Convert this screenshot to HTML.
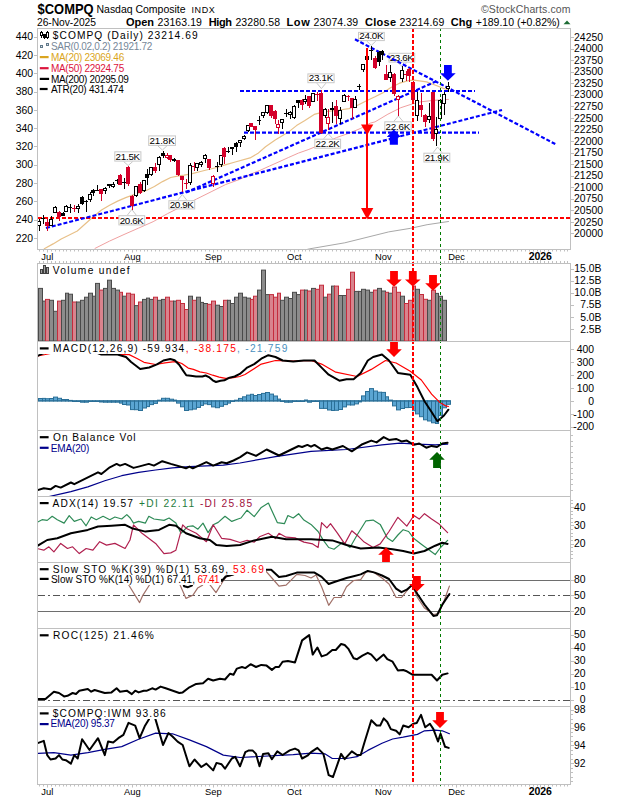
<!DOCTYPE html>
<html><head><meta charset="utf-8"><title>$COMPQ Nasdaq Composite INDX</title>
<style>
html,body{margin:0;padding:0;background:#fff;width:620px;height:800px;overflow:hidden}
svg{display:block}
text{font-family:"Liberation Sans", Arial, sans-serif}
</style></head><body>
<svg width="620" height="800" viewBox="0 0 620 800">
<rect width="620" height="800" fill="#fff"/>
<defs>
<clipPath id="c_main"><rect x="38" y="29" width="532" height="220"/></clipPath>
<clipPath id="c_vol"><rect x="38" y="264" width="532" height="77"/></clipPath>
<clipPath id="c_macd"><rect x="38" y="342" width="532" height="88"/></clipPath>
<clipPath id="c_obv"><rect x="38" y="431" width="532" height="65"/></clipPath>
<clipPath id="c_adx"><rect x="38" y="497" width="532" height="65"/></clipPath>
<clipPath id="c_sto"><rect x="38" y="563" width="532" height="65"/></clipPath>
<clipPath id="c_roc"><rect x="38" y="629" width="532" height="77"/></clipPath>
<clipPath id="c_iwm"><rect x="38" y="707" width="532" height="77"/></clipPath>
</defs>
<text x="37.6" y="13.9" font-size="14.2" fill="#000" font-weight="bold" textLength="56" lengthAdjust="spacingAndGlyphs">$COMPQ</text>
<text x="96.5" y="12.9" font-size="10.5" fill="#000" textLength="89" lengthAdjust="spacing">Nasdaq Composite</text>
<text x="191.5" y="12.8" font-size="9" fill="#000" textLength="23.3" lengthAdjust="spacing">INDX</text>
<text x="37" y="25.6" font-size="10.3" fill="#000" textLength="59" lengthAdjust="spacing">26-Nov-2025</text>
<text x="126" y="25.5" font-size="11" fill="#000" font-weight="bold" textLength="28" lengthAdjust="spacing">Open</text>
<text x="157.6" y="25.5" font-size="10.5" fill="#000" textLength="44.3" lengthAdjust="spacing">23163.19</text>
<text x="208.8" y="25.5" font-size="11" fill="#000" font-weight="bold" textLength="23.2" lengthAdjust="spacing">High</text>
<text x="235.4" y="25.5" font-size="10.5" fill="#000" textLength="44.7" lengthAdjust="spacing">23280.58</text>
<text x="286.5" y="25.5" font-size="11" fill="#000" font-weight="bold" textLength="23.2" lengthAdjust="spacing">Low</text>
<text x="313.5" y="25.5" font-size="10.5" fill="#000" textLength="44.7" lengthAdjust="spacing">23074.39</text>
<text x="365" y="25.5" font-size="11" fill="#000" font-weight="bold" textLength="31" lengthAdjust="spacing">Close</text>
<text x="399.5" y="25.5" font-size="10.5" fill="#000" textLength="44.8" lengthAdjust="spacing">23214.69</text>
<text x="450.8" y="25.5" font-size="11" fill="#000" font-weight="bold" textLength="21.5" lengthAdjust="spacing">Chg</text>
<text x="475.8" y="25.5" font-size="10.5" fill="#000" textLength="84" lengthAdjust="spacing">+189.10 (+0.82%)</text>
<polygon points="563.5,24.2 570.5,24.2 567,20.6" fill="#1d6b33"/>
<text x="481" y="13.2" font-size="10.5" fill="#555" textLength="89.5" lengthAdjust="spacing">©StockCharts.com</text>
<path d="M39.5,249.5v2M43.5,249.5v2M47.5,249.5v3M51.5,249.5v2M55.5,249.5v2M59.5,249.5v2M63.5,249.5v2M66.5,249.5v2M70.5,249.5v2M74.5,249.5v2M78.5,249.5v2M82.5,249.5v2M86.5,249.5v2M90.5,249.5v2M93.5,249.5v2M97.5,249.5v2M101.5,249.5v2M105.5,249.5v2M109.5,249.5v2M113.5,249.5v2M117.5,249.5v2M120.5,249.5v2M124.5,249.5v2M128.5,249.5v2M132.5,249.5v3M136.5,249.5v2M140.5,249.5v2M144.5,249.5v2M147.5,249.5v2M151.5,249.5v2M155.5,249.5v2M159.5,249.5v2M163.5,249.5v2M167.5,249.5v2M170.5,249.5v2M174.5,249.5v2M178.5,249.5v2M182.5,249.5v2M186.5,249.5v2M190.5,249.5v2M194.5,249.5v2M197.5,249.5v2M201.5,249.5v2M205.5,249.5v2M209.5,249.5v2M213.5,249.5v3M217.5,249.5v2M221.5,249.5v2M224.5,249.5v2M228.5,249.5v2M232.5,249.5v2M236.5,249.5v2M240.5,249.5v2M244.5,249.5v2M248.5,249.5v2M251.5,249.5v2M255.5,249.5v2M259.5,249.5v2M263.5,249.5v2M267.5,249.5v2M271.5,249.5v2M275.5,249.5v2M278.5,249.5v2M282.5,249.5v2M286.5,249.5v2M290.5,249.5v2M294.5,249.5v3M298.5,249.5v2M302.5,249.5v2M305.5,249.5v2M309.5,249.5v2M313.5,249.5v2M317.5,249.5v2M321.5,249.5v2M325.5,249.5v2M328.5,249.5v2M332.5,249.5v2M336.5,249.5v2M340.5,249.5v2M344.5,249.5v2M348.5,249.5v2M352.5,249.5v2M355.5,249.5v2M359.5,249.5v2M363.5,249.5v2M367.5,249.5v2M371.5,249.5v2M375.5,249.5v2M379.5,249.5v2M382.5,249.5v3M386.5,249.5v2M390.5,249.5v2M394.5,249.5v2M398.5,249.5v2M402.5,249.5v2M406.5,249.5v2M409.5,249.5v2M413.5,249.5v2M417.5,249.5v2M421.5,249.5v2M425.5,249.5v2M429.5,249.5v2M433.5,249.5v2M436.5,249.5v2M440.5,249.5v2M444.5,249.5v2M448.5,249.5v2M452.5,249.5v2M456.5,249.5v3M460.5,249.5v2M463.5,249.5v2M467.5,249.5v2M471.5,249.5v2M475.5,249.5v2M479.5,249.5v2M483.5,249.5v2M487.5,249.5v2M490.5,249.5v2M494.5,249.5v2M498.5,249.5v2M502.5,249.5v2M506.5,249.5v2M510.5,249.5v2M513.5,249.5v2M517.5,249.5v2M521.5,249.5v2M525.5,249.5v2M529.5,249.5v2M533.5,249.5v2M537.5,249.5v2M540.5,249.5v3M544.5,249.5v2M548.5,249.5v2M552.5,249.5v2M556.5,249.5v2M560.5,249.5v2M564.5,249.5v2M567.5,249.5v2" stroke="#c0c0c0" stroke-width="1" fill="none"/>
<path d="M39.5,263v-2M43.5,263v-2M47.5,263v-3M51.5,263v-2M55.5,263v-2M59.5,263v-2M63.5,263v-2M66.5,263v-2M70.5,263v-2M74.5,263v-2M78.5,263v-2M82.5,263v-2M86.5,263v-2M90.5,263v-2M93.5,263v-2M97.5,263v-2M101.5,263v-2M105.5,263v-2M109.5,263v-2M113.5,263v-2M117.5,263v-2M120.5,263v-2M124.5,263v-2M128.5,263v-2M132.5,263v-3M136.5,263v-2M140.5,263v-2M144.5,263v-2M147.5,263v-2M151.5,263v-2M155.5,263v-2M159.5,263v-2M163.5,263v-2M167.5,263v-2M170.5,263v-2M174.5,263v-2M178.5,263v-2M182.5,263v-2M186.5,263v-2M190.5,263v-2M194.5,263v-2M197.5,263v-2M201.5,263v-2M205.5,263v-2M209.5,263v-2M213.5,263v-3M217.5,263v-2M221.5,263v-2M224.5,263v-2M228.5,263v-2M232.5,263v-2M236.5,263v-2M240.5,263v-2M244.5,263v-2M248.5,263v-2M251.5,263v-2M255.5,263v-2M259.5,263v-2M263.5,263v-2M267.5,263v-2M271.5,263v-2M275.5,263v-2M278.5,263v-2M282.5,263v-2M286.5,263v-2M290.5,263v-2M294.5,263v-3M298.5,263v-2M302.5,263v-2M305.5,263v-2M309.5,263v-2M313.5,263v-2M317.5,263v-2M321.5,263v-2M325.5,263v-2M328.5,263v-2M332.5,263v-2M336.5,263v-2M340.5,263v-2M344.5,263v-2M348.5,263v-2M352.5,263v-2M355.5,263v-2M359.5,263v-2M363.5,263v-2M367.5,263v-2M371.5,263v-2M375.5,263v-2M379.5,263v-2M382.5,263v-3M386.5,263v-2M390.5,263v-2M394.5,263v-2M398.5,263v-2M402.5,263v-2M406.5,263v-2M409.5,263v-2M413.5,263v-2M417.5,263v-2M421.5,263v-2M425.5,263v-2M429.5,263v-2M433.5,263v-2M436.5,263v-2M440.5,263v-2M444.5,263v-2M448.5,263v-2M452.5,263v-2M456.5,263v-3M460.5,263v-2M463.5,263v-2M467.5,263v-2M471.5,263v-2M475.5,263v-2M479.5,263v-2M483.5,263v-2M487.5,263v-2M490.5,263v-2M494.5,263v-2M498.5,263v-2M502.5,263v-2M506.5,263v-2M510.5,263v-2M513.5,263v-2M517.5,263v-2M521.5,263v-2M525.5,263v-2M529.5,263v-2M533.5,263v-2M537.5,263v-2M540.5,263v-3M544.5,263v-2M548.5,263v-2M552.5,263v-2M556.5,263v-2M560.5,263v-2M564.5,263v-2M567.5,263v-2" stroke="#c0c0c0" stroke-width="1" fill="none"/>
<path d="M39.5,784.5v2M43.5,784.5v2M47.5,784.5v3M51.5,784.5v2M55.5,784.5v2M59.5,784.5v2M63.5,784.5v2M66.5,784.5v2M70.5,784.5v2M74.5,784.5v2M78.5,784.5v2M82.5,784.5v2M86.5,784.5v2M90.5,784.5v2M93.5,784.5v2M97.5,784.5v2M101.5,784.5v2M105.5,784.5v2M109.5,784.5v2M113.5,784.5v2M117.5,784.5v2M120.5,784.5v2M124.5,784.5v2M128.5,784.5v2M132.5,784.5v3M136.5,784.5v2M140.5,784.5v2M144.5,784.5v2M147.5,784.5v2M151.5,784.5v2M155.5,784.5v2M159.5,784.5v2M163.5,784.5v2M167.5,784.5v2M170.5,784.5v2M174.5,784.5v2M178.5,784.5v2M182.5,784.5v2M186.5,784.5v2M190.5,784.5v2M194.5,784.5v2M197.5,784.5v2M201.5,784.5v2M205.5,784.5v2M209.5,784.5v2M213.5,784.5v3M217.5,784.5v2M221.5,784.5v2M224.5,784.5v2M228.5,784.5v2M232.5,784.5v2M236.5,784.5v2M240.5,784.5v2M244.5,784.5v2M248.5,784.5v2M251.5,784.5v2M255.5,784.5v2M259.5,784.5v2M263.5,784.5v2M267.5,784.5v2M271.5,784.5v2M275.5,784.5v2M278.5,784.5v2M282.5,784.5v2M286.5,784.5v2M290.5,784.5v2M294.5,784.5v3M298.5,784.5v2M302.5,784.5v2M305.5,784.5v2M309.5,784.5v2M313.5,784.5v2M317.5,784.5v2M321.5,784.5v2M325.5,784.5v2M328.5,784.5v2M332.5,784.5v2M336.5,784.5v2M340.5,784.5v2M344.5,784.5v2M348.5,784.5v2M352.5,784.5v2M355.5,784.5v2M359.5,784.5v2M363.5,784.5v2M367.5,784.5v2M371.5,784.5v2M375.5,784.5v2M379.5,784.5v2M382.5,784.5v3M386.5,784.5v2M390.5,784.5v2M394.5,784.5v2M398.5,784.5v2M402.5,784.5v2M406.5,784.5v2M409.5,784.5v2M413.5,784.5v2M417.5,784.5v2M421.5,784.5v2M425.5,784.5v2M429.5,784.5v2M433.5,784.5v2M436.5,784.5v2M440.5,784.5v2M444.5,784.5v2M448.5,784.5v2M452.5,784.5v2M456.5,784.5v3M460.5,784.5v2M463.5,784.5v2M467.5,784.5v2M471.5,784.5v2M475.5,784.5v2M479.5,784.5v2M483.5,784.5v2M487.5,784.5v2M490.5,784.5v2M494.5,784.5v2M498.5,784.5v2M502.5,784.5v2M506.5,784.5v2M510.5,784.5v2M513.5,784.5v2M517.5,784.5v2M521.5,784.5v2M525.5,784.5v2M529.5,784.5v2M533.5,784.5v2M537.5,784.5v2M540.5,784.5v3M544.5,784.5v2M548.5,784.5v2M552.5,784.5v2M556.5,784.5v2M560.5,784.5v2M564.5,784.5v2M567.5,784.5v2" stroke="#c0c0c0" stroke-width="1" fill="none"/>
<text x="47.3" y="259.8" font-size="9.4" fill="#000" font-family='"DejaVu Sans", sans-serif' text-anchor="middle">Jul</text>
<text x="47.3" y="794.8" font-size="9.4" fill="#000" font-family='"DejaVu Sans", sans-serif' text-anchor="middle">Jul</text>
<text x="132.3" y="259.8" font-size="9.4" fill="#000" font-family='"DejaVu Sans", sans-serif' text-anchor="middle">Aug</text>
<text x="132.3" y="794.8" font-size="9.4" fill="#000" font-family='"DejaVu Sans", sans-serif' text-anchor="middle">Aug</text>
<text x="213.4" y="259.8" font-size="9.4" fill="#000" font-family='"DejaVu Sans", sans-serif' text-anchor="middle">Sep</text>
<text x="213.4" y="794.8" font-size="9.4" fill="#000" font-family='"DejaVu Sans", sans-serif' text-anchor="middle">Sep</text>
<text x="294.4" y="259.8" font-size="9.4" fill="#000" font-family='"DejaVu Sans", sans-serif' text-anchor="middle">Oct</text>
<text x="294.4" y="794.8" font-size="9.4" fill="#000" font-family='"DejaVu Sans", sans-serif' text-anchor="middle">Oct</text>
<text x="383.3" y="259.8" font-size="9.4" fill="#000" font-family='"DejaVu Sans", sans-serif' text-anchor="middle">Nov</text>
<text x="383.3" y="794.8" font-size="9.4" fill="#000" font-family='"DejaVu Sans", sans-serif' text-anchor="middle">Nov</text>
<text x="456.5" y="259.8" font-size="9.4" fill="#000" font-family='"DejaVu Sans", sans-serif' text-anchor="middle">Dec</text>
<text x="456.5" y="794.8" font-size="9.4" fill="#000" font-family='"DejaVu Sans", sans-serif' text-anchor="middle">Dec</text>
<text x="540.3" y="259.8" font-size="10.5" fill="#000" font-weight="bold" textLength="23" lengthAdjust="spacing" text-anchor="middle">2026</text>
<text x="540.3" y="794.8" font-size="10.5" fill="#000" font-weight="bold" textLength="23" lengthAdjust="spacing" text-anchor="middle">2026</text>
<g clip-path="url(#c_main)">
<polyline points="305.0,250.0 309.2,248.9 344.8,242.8 388.7,231.9 410.6,228.3 427.1,224.7 448.5,221.5" fill="none" stroke="#a8a8a8" stroke-width="1" stroke-linejoin="round" stroke-linecap="round"/>
<polyline points="95.0,248.4 109.5,241.1 124.0,234.5 138.6,228.1 153.1,221.7 167.6,213.6 182.1,206.3 196.6,199.0 211.1,191.8 225.7,184.5 240.2,179.2 250.0,174.4 259.7,170.5 269.4,166.1 279.0,161.8 288.7,157.4 298.4,153.1 308.1,149.7 315.8,146.6 327.1,141.8 336.5,137.6 349.0,133.2 360.7,128.4 370.3,123.1 375.0,121.9 387.9,114.2 400.8,107.7 412.4,103.9 420.2,101.9 433.1,100.4 448.5,99.4" fill="none" stroke="#f0a0a0" stroke-width="1" stroke-linejoin="round" stroke-linecap="round"/>
<polyline points="44.3,248.7 53.1,243.9 61.2,239.0 69.3,235.0 77.3,231.0 85.4,223.7 93.5,216.5 101.5,210.0 109.6,205.2 117.6,201.1 125.7,197.6 134.0,194.6 146.3,190.5 154.4,186.5 162.5,181.6 170.7,177.5 178.8,175.9 184.1,175.2 192.3,173.6 200.4,171.5 208.5,169.5 216.7,167.5 226.0,164.6 235.2,162.0 250.0,157.9 257.7,153.6 265.5,146.8 275.2,140.0 288.4,132.1 296.5,125.6 304.5,120.8 314.2,114.4 323.9,111.9 339.4,110.0 349.0,108.6 358.7,104.7 366.5,100.8 375.0,96.8 382.7,92.9 390.5,87.7 399.5,83.2 408.5,80.6 414.0,80.2 426.6,81.9 436.9,85.8 443.4,88.4 448.5,90.0" fill="none" stroke="#e8c088" stroke-width="1.2" stroke-linejoin="round" stroke-linecap="round"/>
<line x1="38" y1="217.9" x2="570" y2="217.9" stroke="#ff0000" stroke-width="2" stroke-dasharray="4,2"/>
<polyline points="123.69999999999999,161.6 128.2,165.5 132.7,161.6" fill="#fff" stroke="#c8c8c8" stroke-width="1"/>
<rect x="114.8" y="151.8" width="26.10000000000001" height="9.299999999999983" fill="#fff" stroke="#c8c8c8" stroke-width="1"/>
<text x="127.85" y="159.7" font-size="9.8" fill="#000" font-family='"DejaVu Sans Condensed", "DejaVu Sans", sans-serif' textLength="24.500000000000007" lengthAdjust="spacing" text-anchor="middle">21.5K</text>
<polyline points="157.9,145.9 162.4,150 166.9,145.9" fill="#fff" stroke="#c8c8c8" stroke-width="1"/>
<rect x="148.7" y="135.9" width="26.80000000000001" height="9.5" fill="#fff" stroke="#c8c8c8" stroke-width="1"/>
<text x="162.1" y="144.0" font-size="9.8" fill="#000" font-family='"DejaVu Sans Condensed", "DejaVu Sans", sans-serif' textLength="25.20000000000001" lengthAdjust="spacing" text-anchor="middle">21.8K</text>
<polyline points="127.30000000000001,215.2 131.8,209.5 136.3,215.2" fill="#fff" stroke="#c8c8c8" stroke-width="1"/>
<rect x="118.9" y="215.7" width="25.799999999999983" height="9.200000000000017" fill="#fff" stroke="#c8c8c8" stroke-width="1"/>
<text x="131.8" y="223.5" font-size="9.8" fill="#000" font-family='"DejaVu Sans Condensed", "DejaVu Sans", sans-serif' textLength="24.19999999999998" lengthAdjust="spacing" text-anchor="middle">20.6K</text>
<polyline points="177.8,200.2 182.3,194.5 186.8,200.2" fill="#fff" stroke="#c8c8c8" stroke-width="1"/>
<rect x="168.9" y="200.7" width="25.799999999999983" height="8.200000000000017" fill="#fff" stroke="#c8c8c8" stroke-width="1"/>
<text x="181.8" y="207.5" font-size="9.8" fill="#000" font-family='"DejaVu Sans Condensed", "DejaVu Sans", sans-serif' textLength="24.19999999999998" lengthAdjust="spacing" text-anchor="middle">20.9K</text>
<polyline points="316.9,83.2 321.4,88.6 325.9,83.2" fill="#fff" stroke="#c8c8c8" stroke-width="1"/>
<rect x="307.9" y="73.9" width="26.200000000000045" height="8.799999999999997" fill="#fff" stroke="#c8c8c8" stroke-width="1"/>
<text x="321.0" y="81.3" font-size="9.8" fill="#000" font-family='"DejaVu Sans Condensed", "DejaVu Sans", sans-serif' textLength="24.600000000000044" lengthAdjust="spacing" text-anchor="middle">23.1K</text>
<polyline points="323.7,138.7 328.2,133.6 332.7,138.7" fill="#fff" stroke="#c8c8c8" stroke-width="1"/>
<rect x="314.8" y="139.2" width="25.80000000000001" height="9.0" fill="#fff" stroke="#c8c8c8" stroke-width="1"/>
<text x="327.70000000000005" y="146.79999999999998" font-size="9.8" fill="#000" font-family='"DejaVu Sans Condensed", "DejaVu Sans", sans-serif' textLength="24.20000000000001" lengthAdjust="spacing" text-anchor="middle">22.2K</text>
<polyline points="366.8,41.1 371.3,45.4 375.8,41.1" fill="#fff" stroke="#c8c8c8" stroke-width="1"/>
<rect x="358.5" y="32.4" width="25.80000000000001" height="8.200000000000003" fill="#fff" stroke="#c8c8c8" stroke-width="1"/>
<text x="371.4" y="39.2" font-size="9.8" fill="#000" font-family='"DejaVu Sans Condensed", "DejaVu Sans", sans-serif' textLength="24.20000000000001" lengthAdjust="spacing" text-anchor="middle">24.0K</text>
<polyline points="397.8,62.6 402.3,66.7 406.8,62.6" fill="#fff" stroke="#c8c8c8" stroke-width="1"/>
<rect x="389.0" y="53.3" width="25.69999999999999" height="8.800000000000004" fill="#fff" stroke="#c8c8c8" stroke-width="1"/>
<text x="401.85" y="60.7" font-size="9.8" fill="#000" font-family='"DejaVu Sans Condensed", "DejaVu Sans", sans-serif' textLength="24.099999999999987" lengthAdjust="spacing" text-anchor="middle">23.6K</text>
<polyline points="393.9,121.3 398.4,116 402.9,121.3" fill="#fff" stroke="#c8c8c8" stroke-width="1"/>
<rect x="384.8" y="121.8" width="26.399999999999977" height="9.299999999999997" fill="#fff" stroke="#c8c8c8" stroke-width="1"/>
<text x="398.0" y="129.7" font-size="9.8" fill="#000" font-family='"DejaVu Sans Condensed", "DejaVu Sans", sans-serif' textLength="24.799999999999976" lengthAdjust="spacing" text-anchor="middle">22.6K</text>
<polyline points="433.1,152.7 437.6,147 442.1,152.7" fill="#fff" stroke="#c8c8c8" stroke-width="1"/>
<rect x="423.9" y="153.2" width="25.900000000000034" height="8.800000000000011" fill="#fff" stroke="#c8c8c8" stroke-width="1"/>
<text x="436.85" y="160.6" font-size="9.8" fill="#000" font-family='"DejaVu Sans Condensed", "DejaVu Sans", sans-serif' textLength="24.300000000000033" lengthAdjust="spacing" text-anchor="middle">21.9K</text>
<line x1="240" y1="91" x2="475" y2="91" stroke="#0000ff" stroke-width="2.2" stroke-dasharray="4,2" fill="none"/>
<line x1="244" y1="132.7" x2="479" y2="132.7" stroke="#0000ff" stroke-width="2.2" stroke-dasharray="4,2" fill="none"/>
<line x1="46" y1="228" x2="502" y2="110" stroke="#0000ff" stroke-width="2.2" stroke-dasharray="4,2" fill="none"/>
<line x1="186" y1="192.5" x2="438" y2="80.5" stroke="#0000ff" stroke-width="2.2" stroke-dasharray="4,2" fill="none"/>
<line x1="355" y1="39.3" x2="556" y2="144.4" stroke="#0000ff" stroke-width="2.2" stroke-dasharray="4,2" fill="none"/>
<rect x="39" y="219" width="1" height="12" fill="#000"/>
<rect x="37.5" y="221.5" width="3" height="4" fill="#fff" stroke="#000" stroke-width="1"/>
<rect x="43" y="215" width="1" height="9" fill="#000"/>
<rect x="41" y="218" width="4" height="1" fill="#000"/>
<rect x="47" y="219" width="1" height="12" fill="#d4002a"/>
<rect x="45" y="222" width="4" height="4" fill="#d4002a"/>
<rect x="51" y="216" width="1" height="10" fill="#000"/>
<rect x="49.5" y="219.5" width="3" height="6" fill="#fff" stroke="#000" stroke-width="1"/>
<rect x="55" y="206" width="1" height="7" fill="#000"/>
<rect x="53.5" y="207.5" width="3" height="5" fill="#fff" stroke="#000" stroke-width="1"/>
<rect x="59" y="211" width="1" height="10" fill="#d4002a"/>
<rect x="57" y="212" width="4" height="5" fill="#d4002a"/>
<rect x="63" y="212" width="1" height="4" fill="#000"/>
<rect x="61" y="213" width="4" height="3" fill="#000"/>
<rect x="66" y="205" width="1" height="7" fill="#000"/>
<rect x="64.5" y="206.5" width="3" height="5" fill="#fff" stroke="#000" stroke-width="1"/>
<rect x="70" y="204" width="1" height="9" fill="#000"/>
<rect x="68" y="207" width="4" height="1" fill="#000"/>
<rect x="74" y="205" width="1" height="7" fill="#d4002a"/>
<rect x="72" y="208" width="4" height="1" fill="#d4002a"/>
<rect x="78" y="204" width="1" height="9" fill="#000"/>
<rect x="76.5" y="206.5" width="3" height="2" fill="#fff" stroke="#000" stroke-width="1"/>
<rect x="82" y="196" width="1" height="9" fill="#000"/>
<rect x="80" y="197" width="4" height="7" fill="#000"/>
<rect x="86" y="200" width="1" height="12" fill="#000"/>
<rect x="84" y="201" width="4" height="1" fill="#000"/>
<rect x="90" y="192" width="1" height="10" fill="#000"/>
<rect x="88.5" y="194.5" width="3" height="5" fill="#fff" stroke="#000" stroke-width="1"/>
<rect x="93" y="189" width="1" height="7" fill="#000"/>
<rect x="91" y="190" width="4" height="3" fill="#000"/>
<rect x="97" y="185" width="1" height="6" fill="#000"/>
<rect x="95" y="190" width="4" height="1" fill="#000"/>
<rect x="101" y="189" width="1" height="12" fill="#d4002a"/>
<rect x="99" y="189" width="4" height="5" fill="#d4002a"/>
<rect x="105" y="187" width="1" height="7" fill="#000"/>
<rect x="103.5" y="188.5" width="3" height="2" fill="#fff" stroke="#000" stroke-width="1"/>
<rect x="109" y="184" width="1" height="4" fill="#000"/>
<rect x="107" y="184" width="4" height="2" fill="#000"/>
<rect x="113" y="182" width="1" height="6" fill="#000"/>
<rect x="111.5" y="184.5" width="3" height="2" fill="#fff" stroke="#000" stroke-width="1"/>
<rect x="117" y="179" width="1" height="5" fill="#000"/>
<rect x="115" y="180" width="4" height="1" fill="#000"/>
<rect x="120" y="174" width="1" height="11" fill="#d4002a"/>
<rect x="118" y="175" width="4" height="10" fill="#d4002a"/>
<rect x="124" y="178" width="1" height="11" fill="#000"/>
<rect x="122" y="182" width="4" height="1" fill="#000"/>
<rect x="128" y="166" width="1" height="20" fill="#d4002a"/>
<rect x="126" y="167" width="4" height="17" fill="#d4002a"/>
<rect x="132" y="195" width="1" height="15" fill="#d4002a"/>
<rect x="130" y="196" width="4" height="10" fill="#d4002a"/>
<rect x="136" y="186" width="1" height="11" fill="#000"/>
<rect x="134.5" y="186.5" width="3" height="9" fill="#fff" stroke="#000" stroke-width="1"/>
<rect x="140" y="182" width="1" height="12" fill="#d4002a"/>
<rect x="138" y="184" width="4" height="9" fill="#d4002a"/>
<rect x="144" y="180" width="1" height="12" fill="#000"/>
<rect x="142.5" y="180.5" width="3" height="10" fill="#fff" stroke="#000" stroke-width="1"/>
<rect x="147" y="169" width="1" height="16" fill="#000"/>
<rect x="145" y="174" width="4" height="4" fill="#000"/>
<rect x="151" y="167" width="1" height="9" fill="#000"/>
<rect x="149.5" y="167.5" width="3" height="7" fill="#fff" stroke="#000" stroke-width="1"/>
<rect x="155" y="163" width="1" height="10" fill="#d4002a"/>
<rect x="153" y="167" width="4" height="4" fill="#d4002a"/>
<rect x="159" y="156" width="1" height="15" fill="#000"/>
<rect x="157.5" y="157.5" width="3" height="7" fill="#fff" stroke="#000" stroke-width="1"/>
<rect x="163" y="151" width="1" height="7" fill="#000"/>
<rect x="161" y="153" width="4" height="3" fill="#000"/>
<rect x="167" y="153" width="1" height="6" fill="#d4002a"/>
<rect x="165.5" y="155.5" width="3" height="2" fill="#fff" stroke="#d4002a" stroke-width="1"/>
<rect x="170" y="155" width="1" height="7" fill="#d4002a"/>
<rect x="168" y="155" width="4" height="5" fill="#d4002a"/>
<rect x="174" y="158" width="1" height="4" fill="#000"/>
<rect x="172" y="159" width="4" height="2" fill="#000"/>
<rect x="178" y="160" width="1" height="16" fill="#d4002a"/>
<rect x="176" y="160" width="4" height="15" fill="#d4002a"/>
<rect x="182" y="176" width="1" height="16" fill="#d4002a"/>
<rect x="180" y="176" width="4" height="4" fill="#d4002a"/>
<rect x="186" y="179" width="1" height="10" fill="#d4002a"/>
<rect x="184" y="183" width="4" height="1" fill="#d4002a"/>
<rect x="190" y="163" width="1" height="22" fill="#000"/>
<rect x="188.5" y="165.5" width="3" height="17" fill="#fff" stroke="#000" stroke-width="1"/>
<rect x="194" y="162" width="1" height="9" fill="#d4002a"/>
<rect x="192" y="166" width="4" height="1" fill="#d4002a"/>
<rect x="197" y="163" width="1" height="8" fill="#000"/>
<rect x="195.5" y="163.5" width="3" height="4" fill="#fff" stroke="#000" stroke-width="1"/>
<rect x="201" y="161" width="1" height="6" fill="#000"/>
<rect x="199.5" y="162.5" width="3" height="2" fill="#fff" stroke="#000" stroke-width="1"/>
<rect x="205" y="154" width="1" height="9" fill="#000"/>
<rect x="203.5" y="155.5" width="3" height="3" fill="#fff" stroke="#000" stroke-width="1"/>
<rect x="209" y="159" width="1" height="11" fill="#d4002a"/>
<rect x="207" y="159" width="4" height="9" fill="#d4002a"/>
<rect x="213" y="175" width="1" height="12" fill="#d4002a"/>
<rect x="211.5" y="176.5" width="3" height="7" fill="#fff" stroke="#d4002a" stroke-width="1"/>
<rect x="217" y="162" width="1" height="10" fill="#000"/>
<rect x="215" y="166" width="4" height="1" fill="#000"/>
<rect x="221" y="155" width="1" height="12" fill="#000"/>
<rect x="219.5" y="155.5" width="3" height="9" fill="#fff" stroke="#000" stroke-width="1"/>
<rect x="224" y="147" width="1" height="17" fill="#d4002a"/>
<rect x="222" y="148" width="4" height="9" fill="#d4002a"/>
<rect x="228" y="147" width="1" height="6" fill="#000"/>
<rect x="226" y="151" width="4" height="1" fill="#000"/>
<rect x="232" y="147" width="1" height="8" fill="#000"/>
<rect x="230" y="147" width="4" height="2" fill="#000"/>
<rect x="236" y="142" width="1" height="10" fill="#000"/>
<rect x="234" y="143" width="4" height="4" fill="#000"/>
<rect x="240" y="140" width="1" height="7" fill="#000"/>
<rect x="238.5" y="140.5" width="3" height="2" fill="#fff" stroke="#000" stroke-width="1"/>
<rect x="244" y="135" width="1" height="5" fill="#000"/>
<rect x="242.5" y="136.5" width="3" height="2" fill="#fff" stroke="#000" stroke-width="1"/>
<rect x="248" y="125" width="1" height="7" fill="#000"/>
<rect x="246.5" y="125.5" width="3" height="5" fill="#fff" stroke="#000" stroke-width="1"/>
<rect x="251" y="123" width="1" height="4" fill="#d4002a"/>
<rect x="249" y="123" width="4" height="4" fill="#d4002a"/>
<rect x="255" y="126" width="1" height="14" fill="#d4002a"/>
<rect x="253" y="126" width="4" height="4" fill="#d4002a"/>
<rect x="259" y="116" width="1" height="9" fill="#000"/>
<rect x="257" y="120" width="4" height="1" fill="#000"/>
<rect x="263" y="112" width="1" height="6" fill="#000"/>
<rect x="261.5" y="112.5" width="3" height="3" fill="#fff" stroke="#000" stroke-width="1"/>
<rect x="267" y="105" width="1" height="9" fill="#000"/>
<rect x="265.5" y="105.5" width="3" height="7" fill="#fff" stroke="#000" stroke-width="1"/>
<rect x="271" y="105" width="1" height="13" fill="#d4002a"/>
<rect x="269" y="105" width="4" height="11" fill="#d4002a"/>
<rect x="275" y="110" width="1" height="14" fill="#d4002a"/>
<rect x="273" y="111" width="4" height="8" fill="#d4002a"/>
<rect x="278" y="120" width="1" height="14" fill="#d4002a"/>
<rect x="276.5" y="124.5" width="3" height="3" fill="#fff" stroke="#d4002a" stroke-width="1"/>
<rect x="282" y="119" width="1" height="10" fill="#000"/>
<rect x="280.5" y="119.5" width="3" height="3" fill="#fff" stroke="#000" stroke-width="1"/>
<rect x="286" y="109" width="1" height="8" fill="#000"/>
<rect x="284" y="113" width="4" height="1" fill="#000"/>
<rect x="290" y="111" width="1" height="8" fill="#000"/>
<rect x="288.5" y="112.5" width="3" height="2" fill="#fff" stroke="#000" stroke-width="1"/>
<rect x="294" y="105" width="1" height="14" fill="#000"/>
<rect x="292.5" y="106.5" width="3" height="11" fill="#fff" stroke="#000" stroke-width="1"/>
<rect x="298" y="100" width="1" height="8" fill="#000"/>
<rect x="296" y="100" width="4" height="3" fill="#000"/>
<rect x="302" y="99" width="1" height="11" fill="#d4002a"/>
<rect x="300" y="100" width="4" height="5" fill="#d4002a"/>
<rect x="305" y="95" width="1" height="9" fill="#000"/>
<rect x="303.5" y="99.5" width="3" height="2" fill="#fff" stroke="#000" stroke-width="1"/>
<rect x="309" y="96" width="1" height="12" fill="#d4002a"/>
<rect x="307" y="96" width="4" height="10" fill="#d4002a"/>
<rect x="313" y="93" width="1" height="9" fill="#000"/>
<rect x="311.5" y="93.5" width="3" height="8" fill="#fff" stroke="#000" stroke-width="1"/>
<rect x="317" y="92" width="1" height="9" fill="#d4002a"/>
<rect x="315" y="94" width="4" height="1" fill="#d4002a"/>
<rect x="321" y="90" width="1" height="44" fill="#d4002a"/>
<rect x="319" y="93" width="4" height="40" fill="#d4002a"/>
<rect x="325" y="108" width="1" height="10" fill="#000"/>
<rect x="323.5" y="109.5" width="3" height="6" fill="#fff" stroke="#000" stroke-width="1"/>
<rect x="328" y="109" width="1" height="21" fill="#d4002a"/>
<rect x="326.5" y="117.5" width="3" height="6" fill="#fff" stroke="#d4002a" stroke-width="1"/>
<rect x="332" y="102" width="1" height="21" fill="#000"/>
<rect x="330" y="108" width="4" height="2" fill="#000"/>
<rect x="336" y="100" width="1" height="24" fill="#d4002a"/>
<rect x="334" y="106" width="4" height="10" fill="#d4002a"/>
<rect x="340" y="107" width="1" height="17" fill="#000"/>
<rect x="338.5" y="110.5" width="3" height="8" fill="#fff" stroke="#000" stroke-width="1"/>
<rect x="344" y="94" width="1" height="8" fill="#000"/>
<rect x="342.5" y="95.5" width="3" height="6" fill="#fff" stroke="#000" stroke-width="1"/>
<rect x="348" y="95" width="1" height="6" fill="#d4002a"/>
<rect x="346" y="96" width="4" height="1" fill="#d4002a"/>
<rect x="352" y="98" width="1" height="21" fill="#d4002a"/>
<rect x="350" y="98" width="4" height="10" fill="#d4002a"/>
<rect x="355" y="96" width="1" height="12" fill="#000"/>
<rect x="353.5" y="99.5" width="3" height="8" fill="#fff" stroke="#000" stroke-width="1"/>
<rect x="359" y="84" width="1" height="6" fill="#000"/>
<rect x="357" y="86" width="4" height="1" fill="#000"/>
<rect x="363" y="64" width="1" height="8" fill="#000"/>
<rect x="361.5" y="64.5" width="3" height="5" fill="#fff" stroke="#000" stroke-width="1"/>
<rect x="367" y="55" width="1" height="5" fill="#000"/>
<rect x="365" y="56" width="4" height="4" fill="#000"/>
<rect x="371" y="46" width="1" height="14" fill="#000"/>
<rect x="369" y="50" width="4" height="1" fill="#000"/>
<rect x="375" y="56" width="1" height="13" fill="#d4002a"/>
<rect x="373" y="58" width="4" height="10" fill="#d4002a"/>
<rect x="379" y="51" width="1" height="15" fill="#000"/>
<rect x="377" y="52" width="4" height="10" fill="#000"/>
<rect x="382" y="50" width="1" height="10" fill="#000"/>
<rect x="380" y="51" width="4" height="4" fill="#000"/>
<rect x="386" y="65" width="1" height="15" fill="#d4002a"/>
<rect x="384" y="74" width="4" height="6" fill="#d4002a"/>
<rect x="390" y="65" width="1" height="17" fill="#000"/>
<rect x="388.5" y="72.5" width="3" height="5" fill="#fff" stroke="#000" stroke-width="1"/>
<rect x="394" y="73" width="1" height="23" fill="#d4002a"/>
<rect x="392" y="74" width="4" height="20" fill="#d4002a"/>
<rect x="398" y="95" width="1" height="21" fill="#d4002a"/>
<rect x="396.5" y="96.5" width="3" height="3" fill="#fff" stroke="#d4002a" stroke-width="1"/>
<rect x="402" y="66" width="1" height="16" fill="#000"/>
<rect x="400.5" y="70.5" width="3" height="8" fill="#fff" stroke="#000" stroke-width="1"/>
<rect x="406" y="71" width="1" height="10" fill="#d4002a"/>
<rect x="404" y="74" width="4" height="1" fill="#d4002a"/>
<rect x="409" y="68" width="1" height="14" fill="#d4002a"/>
<rect x="407" y="69" width="4" height="7" fill="#d4002a"/>
<rect x="413" y="81" width="1" height="20" fill="#d4002a"/>
<rect x="411" y="82" width="4" height="18" fill="#d4002a"/>
<rect x="417" y="92" width="1" height="29" fill="#000"/>
<rect x="415.5" y="100.5" width="3" height="15" fill="#fff" stroke="#000" stroke-width="1"/>
<rect x="421" y="93" width="1" height="24" fill="#d4002a"/>
<rect x="419" y="105" width="4" height="5" fill="#d4002a"/>
<rect x="425" y="114" width="1" height="13" fill="#d4002a"/>
<rect x="423" y="115" width="4" height="7" fill="#d4002a"/>
<rect x="429" y="103" width="1" height="20" fill="#000"/>
<rect x="427.5" y="116.5" width="3" height="3" fill="#fff" stroke="#000" stroke-width="1"/>
<rect x="433" y="92" width="1" height="49" fill="#d4002a"/>
<rect x="431" y="92" width="4" height="47" fill="#d4002a"/>
<rect x="436" y="117" width="1" height="29" fill="#000"/>
<rect x="434.5" y="129.5" width="3" height="4" fill="#fff" stroke="#000" stroke-width="1"/>
<rect x="440" y="99" width="1" height="21" fill="#000"/>
<rect x="438.5" y="100.5" width="3" height="18" fill="#fff" stroke="#000" stroke-width="1"/>
<rect x="444" y="92" width="1" height="23" fill="#000"/>
<rect x="442.5" y="94.5" width="3" height="9" fill="#fff" stroke="#000" stroke-width="1"/>
<rect x="448" y="82" width="1" height="10" fill="#000"/>
<rect x="446.5" y="86.5" width="3" height="2" fill="#fff" stroke="#000" stroke-width="1"/>
</g>
<g clip-path="url(#c_vol)">
<rect x="38.5" y="288.4" width="4" height="52.6" fill="#8c8c8c" stroke="#4a4a4a" stroke-width="1"/>
<rect x="42.5" y="301.1" width="3" height="39.9" fill="#8c8c8c" stroke="#4a4a4a" stroke-width="1"/>
<rect x="45.5" y="299.4" width="4" height="41.6" fill="#d9838d" stroke="#c42c3c" stroke-width="1"/>
<rect x="49.5" y="300.3" width="4" height="40.7" fill="#8c8c8c" stroke="#4a4a4a" stroke-width="1"/>
<rect x="53.5" y="311.3" width="4" height="29.7" fill="#8c8c8c" stroke="#4a4a4a" stroke-width="1"/>
<rect x="57.5" y="301.1" width="4" height="39.9" fill="#d9838d" stroke="#c42c3c" stroke-width="1"/>
<rect x="61.5" y="300.3" width="4" height="40.7" fill="#8c8c8c" stroke="#4a4a4a" stroke-width="1"/>
<rect x="65.5" y="293.2" width="3" height="47.8" fill="#8c8c8c" stroke="#4a4a4a" stroke-width="1"/>
<rect x="68.5" y="294.2" width="4" height="46.8" fill="#8c8c8c" stroke="#4a4a4a" stroke-width="1"/>
<rect x="72.5" y="302.0" width="4" height="39.0" fill="#d9838d" stroke="#c42c3c" stroke-width="1"/>
<rect x="76.5" y="302.0" width="4" height="39.0" fill="#8c8c8c" stroke="#4a4a4a" stroke-width="1"/>
<rect x="80.5" y="300.3" width="4" height="40.7" fill="#8c8c8c" stroke="#4a4a4a" stroke-width="1"/>
<rect x="84.5" y="297.2" width="4" height="43.8" fill="#8c8c8c" stroke="#4a4a4a" stroke-width="1"/>
<rect x="88.5" y="293.2" width="4" height="47.8" fill="#8c8c8c" stroke="#4a4a4a" stroke-width="1"/>
<rect x="92.5" y="296.2" width="3" height="44.8" fill="#8c8c8c" stroke="#4a4a4a" stroke-width="1"/>
<rect x="95.5" y="283.4" width="4" height="57.6" fill="#8c8c8c" stroke="#4a4a4a" stroke-width="1"/>
<rect x="99.5" y="290.1" width="4" height="50.9" fill="#d9838d" stroke="#c42c3c" stroke-width="1"/>
<rect x="103.5" y="288.4" width="4" height="52.6" fill="#8c8c8c" stroke="#4a4a4a" stroke-width="1"/>
<rect x="107.5" y="280.2" width="4" height="60.8" fill="#8c8c8c" stroke="#4a4a4a" stroke-width="1"/>
<rect x="111.5" y="288.4" width="4" height="52.6" fill="#8c8c8c" stroke="#4a4a4a" stroke-width="1"/>
<rect x="115.5" y="290.1" width="4" height="50.9" fill="#8c8c8c" stroke="#4a4a4a" stroke-width="1"/>
<rect x="119.5" y="292.3" width="3" height="48.7" fill="#d9838d" stroke="#c42c3c" stroke-width="1"/>
<rect x="122.5" y="296.2" width="4" height="44.8" fill="#8c8c8c" stroke="#4a4a4a" stroke-width="1"/>
<rect x="126.5" y="293.2" width="4" height="47.8" fill="#d9838d" stroke="#c42c3c" stroke-width="1"/>
<rect x="130.5" y="294.2" width="4" height="46.8" fill="#d9838d" stroke="#c42c3c" stroke-width="1"/>
<rect x="134.5" y="305.6" width="4" height="35.4" fill="#8c8c8c" stroke="#4a4a4a" stroke-width="1"/>
<rect x="138.5" y="302.0" width="4" height="39.0" fill="#d9838d" stroke="#c42c3c" stroke-width="1"/>
<rect x="142.5" y="299.4" width="4" height="41.6" fill="#8c8c8c" stroke="#4a4a4a" stroke-width="1"/>
<rect x="146.5" y="298.1" width="3" height="42.9" fill="#8c8c8c" stroke="#4a4a4a" stroke-width="1"/>
<rect x="149.5" y="299.4" width="4" height="41.6" fill="#8c8c8c" stroke="#4a4a4a" stroke-width="1"/>
<rect x="153.5" y="297.2" width="4" height="43.8" fill="#d9838d" stroke="#c42c3c" stroke-width="1"/>
<rect x="157.5" y="300.3" width="4" height="40.7" fill="#8c8c8c" stroke="#4a4a4a" stroke-width="1"/>
<rect x="161.5" y="299.4" width="4" height="41.6" fill="#8c8c8c" stroke="#4a4a4a" stroke-width="1"/>
<rect x="165.5" y="297.2" width="4" height="43.8" fill="#d9838d" stroke="#c42c3c" stroke-width="1"/>
<rect x="169.5" y="301.1" width="4" height="39.9" fill="#d9838d" stroke="#c42c3c" stroke-width="1"/>
<rect x="173.5" y="301.1" width="3" height="39.9" fill="#8c8c8c" stroke="#4a4a4a" stroke-width="1"/>
<rect x="176.5" y="300.3" width="4" height="40.7" fill="#d9838d" stroke="#c42c3c" stroke-width="1"/>
<rect x="180.5" y="303.5" width="4" height="37.5" fill="#d9838d" stroke="#c42c3c" stroke-width="1"/>
<rect x="184.5" y="309.5" width="4" height="31.5" fill="#d9838d" stroke="#c42c3c" stroke-width="1"/>
<rect x="188.5" y="296.2" width="4" height="44.8" fill="#8c8c8c" stroke="#4a4a4a" stroke-width="1"/>
<rect x="192.5" y="300.3" width="4" height="40.7" fill="#d9838d" stroke="#c42c3c" stroke-width="1"/>
<rect x="196.5" y="297.2" width="4" height="43.8" fill="#8c8c8c" stroke="#4a4a4a" stroke-width="1"/>
<rect x="200.5" y="302.4" width="3" height="38.6" fill="#8c8c8c" stroke="#4a4a4a" stroke-width="1"/>
<rect x="203.5" y="303.5" width="4" height="37.5" fill="#8c8c8c" stroke="#4a4a4a" stroke-width="1"/>
<rect x="207.5" y="304.3" width="4" height="36.7" fill="#d9838d" stroke="#c42c3c" stroke-width="1"/>
<rect x="211.5" y="301.1" width="4" height="39.9" fill="#d9838d" stroke="#c42c3c" stroke-width="1"/>
<rect x="215.5" y="305.2" width="4" height="35.8" fill="#8c8c8c" stroke="#4a4a4a" stroke-width="1"/>
<rect x="219.5" y="306.5" width="4" height="34.5" fill="#8c8c8c" stroke="#4a4a4a" stroke-width="1"/>
<rect x="223.5" y="300.3" width="4" height="40.7" fill="#d9838d" stroke="#c42c3c" stroke-width="1"/>
<rect x="227.5" y="300.3" width="3" height="40.7" fill="#8c8c8c" stroke="#4a4a4a" stroke-width="1"/>
<rect x="230.5" y="303.5" width="4" height="37.5" fill="#8c8c8c" stroke="#4a4a4a" stroke-width="1"/>
<rect x="234.5" y="297.2" width="4" height="43.8" fill="#8c8c8c" stroke="#4a4a4a" stroke-width="1"/>
<rect x="238.5" y="293.2" width="4" height="47.8" fill="#8c8c8c" stroke="#4a4a4a" stroke-width="1"/>
<rect x="242.5" y="297.2" width="4" height="43.8" fill="#8c8c8c" stroke="#4a4a4a" stroke-width="1"/>
<rect x="246.5" y="298.1" width="4" height="42.9" fill="#8c8c8c" stroke="#4a4a4a" stroke-width="1"/>
<rect x="250.5" y="299.4" width="3" height="41.6" fill="#d9838d" stroke="#c42c3c" stroke-width="1"/>
<rect x="253.5" y="296.2" width="4" height="44.8" fill="#d9838d" stroke="#c42c3c" stroke-width="1"/>
<rect x="257.5" y="290.1" width="4" height="50.9" fill="#8c8c8c" stroke="#4a4a4a" stroke-width="1"/>
<rect x="261.5" y="270.1" width="4" height="70.9" fill="#8c8c8c" stroke="#4a4a4a" stroke-width="1"/>
<rect x="265.5" y="294.6" width="4" height="46.4" fill="#8c8c8c" stroke="#4a4a4a" stroke-width="1"/>
<rect x="269.5" y="294.6" width="4" height="46.4" fill="#d9838d" stroke="#c42c3c" stroke-width="1"/>
<rect x="273.5" y="297.2" width="4" height="43.8" fill="#d9838d" stroke="#c42c3c" stroke-width="1"/>
<rect x="277.5" y="293.2" width="3" height="47.8" fill="#d9838d" stroke="#c42c3c" stroke-width="1"/>
<rect x="280.5" y="300.3" width="4" height="40.7" fill="#8c8c8c" stroke="#4a4a4a" stroke-width="1"/>
<rect x="284.5" y="297.2" width="4" height="43.8" fill="#8c8c8c" stroke="#4a4a4a" stroke-width="1"/>
<rect x="288.5" y="298.5" width="4" height="42.5" fill="#8c8c8c" stroke="#4a4a4a" stroke-width="1"/>
<rect x="292.5" y="292.3" width="4" height="48.7" fill="#8c8c8c" stroke="#4a4a4a" stroke-width="1"/>
<rect x="296.5" y="294.6" width="4" height="46.4" fill="#8c8c8c" stroke="#4a4a4a" stroke-width="1"/>
<rect x="300.5" y="290.1" width="4" height="50.9" fill="#d9838d" stroke="#c42c3c" stroke-width="1"/>
<rect x="304.5" y="290.1" width="3" height="50.9" fill="#8c8c8c" stroke="#4a4a4a" stroke-width="1"/>
<rect x="307.5" y="291.0" width="4" height="50.0" fill="#d9838d" stroke="#c42c3c" stroke-width="1"/>
<rect x="311.5" y="288.4" width="4" height="52.6" fill="#8c8c8c" stroke="#4a4a4a" stroke-width="1"/>
<rect x="315.5" y="289.3" width="4" height="51.7" fill="#d9838d" stroke="#c42c3c" stroke-width="1"/>
<rect x="319.5" y="285.2" width="4" height="55.8" fill="#d9838d" stroke="#c42c3c" stroke-width="1"/>
<rect x="323.5" y="297.2" width="4" height="43.8" fill="#8c8c8c" stroke="#4a4a4a" stroke-width="1"/>
<rect x="327.5" y="294.2" width="4" height="46.8" fill="#d9838d" stroke="#c42c3c" stroke-width="1"/>
<rect x="331.5" y="286.1" width="3" height="54.9" fill="#8c8c8c" stroke="#4a4a4a" stroke-width="1"/>
<rect x="334.5" y="286.1" width="4" height="54.9" fill="#d9838d" stroke="#c42c3c" stroke-width="1"/>
<rect x="338.5" y="295.5" width="4" height="45.5" fill="#8c8c8c" stroke="#4a4a4a" stroke-width="1"/>
<rect x="342.5" y="295.5" width="4" height="45.5" fill="#8c8c8c" stroke="#4a4a4a" stroke-width="1"/>
<rect x="346.5" y="289.3" width="4" height="51.7" fill="#d9838d" stroke="#c42c3c" stroke-width="1"/>
<rect x="350.5" y="272.2" width="4" height="68.8" fill="#d9838d" stroke="#c42c3c" stroke-width="1"/>
<rect x="354.5" y="291.4" width="4" height="49.6" fill="#8c8c8c" stroke="#4a4a4a" stroke-width="1"/>
<rect x="358.5" y="291.4" width="3" height="49.6" fill="#8c8c8c" stroke="#4a4a4a" stroke-width="1"/>
<rect x="361.5" y="289.3" width="4" height="51.7" fill="#8c8c8c" stroke="#4a4a4a" stroke-width="1"/>
<rect x="365.5" y="290.1" width="4" height="50.9" fill="#8c8c8c" stroke="#4a4a4a" stroke-width="1"/>
<rect x="369.5" y="292.3" width="4" height="48.7" fill="#8c8c8c" stroke="#4a4a4a" stroke-width="1"/>
<rect x="373.5" y="290.1" width="4" height="50.9" fill="#d9838d" stroke="#c42c3c" stroke-width="1"/>
<rect x="377.5" y="288.4" width="4" height="52.6" fill="#8c8c8c" stroke="#4a4a4a" stroke-width="1"/>
<rect x="381.5" y="291.0" width="4" height="50.0" fill="#8c8c8c" stroke="#4a4a4a" stroke-width="1"/>
<rect x="385.5" y="292.3" width="3" height="48.7" fill="#d9838d" stroke="#c42c3c" stroke-width="1"/>
<rect x="388.5" y="293.2" width="4" height="47.8" fill="#8c8c8c" stroke="#4a4a4a" stroke-width="1"/>
<rect x="392.5" y="287.0" width="4" height="54.0" fill="#d9838d" stroke="#c42c3c" stroke-width="1"/>
<rect x="396.5" y="292.3" width="4" height="48.7" fill="#d9838d" stroke="#c42c3c" stroke-width="1"/>
<rect x="400.5" y="296.2" width="4" height="44.8" fill="#8c8c8c" stroke="#4a4a4a" stroke-width="1"/>
<rect x="404.5" y="303.5" width="4" height="37.5" fill="#d9838d" stroke="#c42c3c" stroke-width="1"/>
<rect x="408.5" y="300.3" width="4" height="40.7" fill="#d9838d" stroke="#c42c3c" stroke-width="1"/>
<rect x="412.5" y="286.1" width="3" height="54.9" fill="#d9838d" stroke="#c42c3c" stroke-width="1"/>
<rect x="415.5" y="289.3" width="4" height="51.7" fill="#8c8c8c" stroke="#4a4a4a" stroke-width="1"/>
<rect x="419.5" y="294.5" width="4" height="46.5" fill="#d9838d" stroke="#c42c3c" stroke-width="1"/>
<rect x="423.5" y="299.3" width="4" height="41.7" fill="#d9838d" stroke="#c42c3c" stroke-width="1"/>
<rect x="427.5" y="300.3" width="4" height="40.7" fill="#8c8c8c" stroke="#4a4a4a" stroke-width="1"/>
<rect x="431.5" y="290.2" width="4" height="50.8" fill="#d9838d" stroke="#c42c3c" stroke-width="1"/>
<rect x="435.5" y="293.4" width="3" height="47.6" fill="#8c8c8c" stroke="#4a4a4a" stroke-width="1"/>
<rect x="438.5" y="296.3" width="4" height="44.7" fill="#8c8c8c" stroke="#4a4a4a" stroke-width="1"/>
<rect x="442.5" y="300.3" width="4" height="40.7" fill="#8c8c8c" stroke="#4a4a4a" stroke-width="1"/>
</g>
<g clip-path="url(#c_macd)">
<rect x="38.5" y="398.5" width="4" height="2.4" fill="#5aa5d2" stroke="#2a6f97" stroke-width="1"/><rect x="42.5" y="398.4" width="3" height="2.5" fill="#5aa5d2" stroke="#2a6f97" stroke-width="1"/><rect x="45.5" y="398.7" width="4" height="2.2" fill="#5aa5d2" stroke="#2a6f97" stroke-width="1"/><rect x="49.5" y="398.5" width="4" height="2.4" fill="#5aa5d2" stroke="#2a6f97" stroke-width="1"/><rect x="53.5" y="397.1" width="4" height="3.8" fill="#5aa5d2" stroke="#2a6f97" stroke-width="1"/><rect x="57.5" y="398.3" width="4" height="2.6" fill="#5aa5d2" stroke="#2a6f97" stroke-width="1"/><rect x="61.5" y="399.5" width="4" height="1.4" fill="#5aa5d2" stroke="#2a6f97" stroke-width="1"/><rect x="65.5" y="399.5" width="3" height="1.4" fill="#5aa5d2" stroke="#2a6f97" stroke-width="1"/><rect x="68.5" y="400.4" width="4" height="0.6" fill="#5aa5d2" stroke="#2a6f97" stroke-width="1"/><rect x="72.5" y="400.9" width="4" height="0.6" fill="#5aa5d2" stroke="#2a6f97" stroke-width="1"/><rect x="76.5" y="400.9" width="4" height="0.6" fill="#5aa5d2" stroke="#2a6f97" stroke-width="1"/><rect x="80.5" y="400.9" width="4" height="1.3" fill="#5aa5d2" stroke="#2a6f97" stroke-width="1"/><rect x="84.5" y="400.9" width="4" height="1.3" fill="#5aa5d2" stroke="#2a6f97" stroke-width="1"/><rect x="88.5" y="400.9" width="4" height="0.6" fill="#5aa5d2" stroke="#2a6f97" stroke-width="1"/><rect x="92.5" y="400.9" width="3" height="0.6" fill="#5aa5d2" stroke="#2a6f97" stroke-width="1"/><rect x="95.5" y="400.9" width="4" height="0.6" fill="#5aa5d2" stroke="#2a6f97" stroke-width="1"/><rect x="99.5" y="400.9" width="4" height="1.1" fill="#5aa5d2" stroke="#2a6f97" stroke-width="1"/><rect x="103.5" y="400.9" width="4" height="1.3" fill="#5aa5d2" stroke="#2a6f97" stroke-width="1"/><rect x="107.5" y="400.9" width="4" height="1.3" fill="#5aa5d2" stroke="#2a6f97" stroke-width="1"/><rect x="111.5" y="400.9" width="4" height="1.3" fill="#5aa5d2" stroke="#2a6f97" stroke-width="1"/><rect x="115.5" y="400.9" width="4" height="1.3" fill="#5aa5d2" stroke="#2a6f97" stroke-width="1"/><rect x="119.5" y="400.9" width="3" height="2.2" fill="#5aa5d2" stroke="#2a6f97" stroke-width="1"/><rect x="122.5" y="400.9" width="4" height="3.6" fill="#5aa5d2" stroke="#2a6f97" stroke-width="1"/><rect x="126.5" y="400.9" width="4" height="4.1" fill="#5aa5d2" stroke="#2a6f97" stroke-width="1"/><rect x="130.5" y="400.9" width="4" height="8.7" fill="#5aa5d2" stroke="#2a6f97" stroke-width="1"/><rect x="134.5" y="400.9" width="4" height="8.8" fill="#5aa5d2" stroke="#2a6f97" stroke-width="1"/><rect x="138.5" y="400.9" width="4" height="9.6" fill="#5aa5d2" stroke="#2a6f97" stroke-width="1"/><rect x="142.5" y="400.9" width="4" height="7.1" fill="#5aa5d2" stroke="#2a6f97" stroke-width="1"/><rect x="146.5" y="400.9" width="3" height="5.7" fill="#5aa5d2" stroke="#2a6f97" stroke-width="1"/><rect x="149.5" y="400.9" width="4" height="3.7" fill="#5aa5d2" stroke="#2a6f97" stroke-width="1"/><rect x="153.5" y="400.9" width="4" height="2.5" fill="#5aa5d2" stroke="#2a6f97" stroke-width="1"/><rect x="157.5" y="400.2" width="4" height="0.7" fill="#5aa5d2" stroke="#2a6f97" stroke-width="1"/><rect x="161.5" y="398.3" width="4" height="2.6" fill="#5aa5d2" stroke="#2a6f97" stroke-width="1"/><rect x="165.5" y="398.3" width="4" height="2.6" fill="#5aa5d2" stroke="#2a6f97" stroke-width="1"/><rect x="169.5" y="399.2" width="4" height="1.7" fill="#5aa5d2" stroke="#2a6f97" stroke-width="1"/><rect x="173.5" y="400.1" width="3" height="0.8" fill="#5aa5d2" stroke="#2a6f97" stroke-width="1"/><rect x="176.5" y="400.9" width="4" height="2.2" fill="#5aa5d2" stroke="#2a6f97" stroke-width="1"/><rect x="180.5" y="400.9" width="4" height="5.9" fill="#5aa5d2" stroke="#2a6f97" stroke-width="1"/><rect x="184.5" y="400.9" width="4" height="9.6" fill="#5aa5d2" stroke="#2a6f97" stroke-width="1"/><rect x="188.5" y="400.9" width="4" height="8.9" fill="#5aa5d2" stroke="#2a6f97" stroke-width="1"/><rect x="192.5" y="400.9" width="4" height="8.2" fill="#5aa5d2" stroke="#2a6f97" stroke-width="1"/><rect x="196.5" y="400.9" width="4" height="6.5" fill="#5aa5d2" stroke="#2a6f97" stroke-width="1"/><rect x="200.5" y="400.9" width="3" height="4.5" fill="#5aa5d2" stroke="#2a6f97" stroke-width="1"/><rect x="203.5" y="400.9" width="4" height="3.0" fill="#5aa5d2" stroke="#2a6f97" stroke-width="1"/><rect x="207.5" y="400.9" width="4" height="3.7" fill="#5aa5d2" stroke="#2a6f97" stroke-width="1"/><rect x="211.5" y="400.9" width="4" height="6.0" fill="#5aa5d2" stroke="#2a6f97" stroke-width="1"/><rect x="215.5" y="400.9" width="4" height="6.8" fill="#5aa5d2" stroke="#2a6f97" stroke-width="1"/><rect x="219.5" y="400.9" width="4" height="5.4" fill="#5aa5d2" stroke="#2a6f97" stroke-width="1"/><rect x="223.5" y="400.9" width="4" height="3.7" fill="#5aa5d2" stroke="#2a6f97" stroke-width="1"/><rect x="227.5" y="400.9" width="3" height="2.2" fill="#5aa5d2" stroke="#2a6f97" stroke-width="1"/><rect x="230.5" y="400.9" width="4" height="0.6" fill="#5aa5d2" stroke="#2a6f97" stroke-width="1"/><rect x="234.5" y="400.2" width="4" height="0.7" fill="#5aa5d2" stroke="#2a6f97" stroke-width="1"/><rect x="238.5" y="398.4" width="4" height="2.5" fill="#5aa5d2" stroke="#2a6f97" stroke-width="1"/><rect x="242.5" y="396.8" width="4" height="4.1" fill="#5aa5d2" stroke="#2a6f97" stroke-width="1"/><rect x="246.5" y="395.1" width="4" height="5.8" fill="#5aa5d2" stroke="#2a6f97" stroke-width="1"/><rect x="250.5" y="394.3" width="3" height="6.6" fill="#5aa5d2" stroke="#2a6f97" stroke-width="1"/><rect x="253.5" y="395.5" width="4" height="5.4" fill="#5aa5d2" stroke="#2a6f97" stroke-width="1"/><rect x="257.5" y="394.5" width="4" height="6.4" fill="#5aa5d2" stroke="#2a6f97" stroke-width="1"/><rect x="261.5" y="393.4" width="4" height="7.5" fill="#5aa5d2" stroke="#2a6f97" stroke-width="1"/><rect x="265.5" y="392.5" width="4" height="8.4" fill="#5aa5d2" stroke="#2a6f97" stroke-width="1"/><rect x="269.5" y="394.1" width="4" height="6.8" fill="#5aa5d2" stroke="#2a6f97" stroke-width="1"/><rect x="273.5" y="396.0" width="4" height="4.9" fill="#5aa5d2" stroke="#2a6f97" stroke-width="1"/><rect x="277.5" y="399.1" width="3" height="1.8" fill="#5aa5d2" stroke="#2a6f97" stroke-width="1"/><rect x="280.5" y="400.9" width="4" height="0.6" fill="#5aa5d2" stroke="#2a6f97" stroke-width="1"/><rect x="284.5" y="400.9" width="4" height="1.3" fill="#5aa5d2" stroke="#2a6f97" stroke-width="1"/><rect x="288.5" y="400.9" width="4" height="1.3" fill="#5aa5d2" stroke="#2a6f97" stroke-width="1"/><rect x="292.5" y="400.9" width="4" height="0.6" fill="#5aa5d2" stroke="#2a6f97" stroke-width="1"/><rect x="296.5" y="400.9" width="4" height="0.6" fill="#5aa5d2" stroke="#2a6f97" stroke-width="1"/><rect x="300.5" y="400.9" width="4" height="0.6" fill="#5aa5d2" stroke="#2a6f97" stroke-width="1"/><rect x="304.5" y="400.0" width="3" height="0.9" fill="#5aa5d2" stroke="#2a6f97" stroke-width="1"/><rect x="307.5" y="400.9" width="4" height="1.3" fill="#5aa5d2" stroke="#2a6f97" stroke-width="1"/><rect x="311.5" y="400.9" width="4" height="0.6" fill="#5aa5d2" stroke="#2a6f97" stroke-width="1"/><rect x="315.5" y="400.9" width="4" height="0.6" fill="#5aa5d2" stroke="#2a6f97" stroke-width="1"/><rect x="319.5" y="400.9" width="4" height="7.5" fill="#5aa5d2" stroke="#2a6f97" stroke-width="1"/><rect x="323.5" y="400.9" width="4" height="7.5" fill="#5aa5d2" stroke="#2a6f97" stroke-width="1"/><rect x="327.5" y="400.9" width="4" height="9.1" fill="#5aa5d2" stroke="#2a6f97" stroke-width="1"/><rect x="331.5" y="400.9" width="3" height="9.6" fill="#5aa5d2" stroke="#2a6f97" stroke-width="1"/><rect x="334.5" y="400.9" width="4" height="9.4" fill="#5aa5d2" stroke="#2a6f97" stroke-width="1"/><rect x="338.5" y="400.9" width="4" height="8.6" fill="#5aa5d2" stroke="#2a6f97" stroke-width="1"/><rect x="342.5" y="400.9" width="4" height="6.0" fill="#5aa5d2" stroke="#2a6f97" stroke-width="1"/><rect x="346.5" y="400.9" width="4" height="4.0" fill="#5aa5d2" stroke="#2a6f97" stroke-width="1"/><rect x="350.5" y="400.9" width="4" height="4.1" fill="#5aa5d2" stroke="#2a6f97" stroke-width="1"/><rect x="354.5" y="400.9" width="4" height="3.0" fill="#5aa5d2" stroke="#2a6f97" stroke-width="1"/><rect x="358.5" y="400.9" width="3" height="1.0" fill="#5aa5d2" stroke="#2a6f97" stroke-width="1"/><rect x="361.5" y="395.9" width="4" height="5.0" fill="#5aa5d2" stroke="#2a6f97" stroke-width="1"/><rect x="365.5" y="391.5" width="4" height="9.4" fill="#5aa5d2" stroke="#2a6f97" stroke-width="1"/><rect x="369.5" y="388.6" width="4" height="12.3" fill="#5aa5d2" stroke="#2a6f97" stroke-width="1"/><rect x="373.5" y="391.0" width="4" height="9.9" fill="#5aa5d2" stroke="#2a6f97" stroke-width="1"/><rect x="377.5" y="392.2" width="4" height="8.7" fill="#5aa5d2" stroke="#2a6f97" stroke-width="1"/><rect x="381.5" y="392.4" width="4" height="8.5" fill="#5aa5d2" stroke="#2a6f97" stroke-width="1"/><rect x="385.5" y="396.8" width="3" height="4.1" fill="#5aa5d2" stroke="#2a6f97" stroke-width="1"/><rect x="388.5" y="400.1" width="4" height="0.8" fill="#5aa5d2" stroke="#2a6f97" stroke-width="1"/><rect x="392.5" y="400.9" width="4" height="5.0" fill="#5aa5d2" stroke="#2a6f97" stroke-width="1"/><rect x="396.5" y="400.9" width="4" height="9.0" fill="#5aa5d2" stroke="#2a6f97" stroke-width="1"/><rect x="400.5" y="400.9" width="4" height="7.6" fill="#5aa5d2" stroke="#2a6f97" stroke-width="1"/><rect x="404.5" y="400.9" width="4" height="6.7" fill="#5aa5d2" stroke="#2a6f97" stroke-width="1"/><rect x="408.5" y="400.9" width="4" height="6.6" fill="#5aa5d2" stroke="#2a6f97" stroke-width="1"/><rect x="412.5" y="400.9" width="3" height="9.8" fill="#5aa5d2" stroke="#2a6f97" stroke-width="1"/><rect x="415.5" y="400.9" width="4" height="13.0" fill="#5aa5d2" stroke="#2a6f97" stroke-width="1"/><rect x="419.5" y="400.9" width="4" height="15.8" fill="#5aa5d2" stroke="#2a6f97" stroke-width="1"/><rect x="423.5" y="400.9" width="4" height="18.9" fill="#5aa5d2" stroke="#2a6f97" stroke-width="1"/><rect x="427.5" y="400.9" width="4" height="20.1" fill="#5aa5d2" stroke="#2a6f97" stroke-width="1"/><rect x="431.5" y="400.9" width="4" height="21.9" fill="#5aa5d2" stroke="#2a6f97" stroke-width="1"/><rect x="435.5" y="400.9" width="3" height="22.6" fill="#5aa5d2" stroke="#2a6f97" stroke-width="1"/><rect x="438.5" y="400.9" width="4" height="14.7" fill="#5aa5d2" stroke="#2a6f97" stroke-width="1"/><rect x="442.5" y="400.9" width="4" height="6.9" fill="#5aa5d2" stroke="#2a6f97" stroke-width="1"/><rect x="446.5" y="400.9" width="4" height="3.4" fill="#5aa5d2" stroke="#2a6f97" stroke-width="1"/>
<line x1="38" y1="400.9" x2="451" y2="400.9" stroke="#2a6f97" stroke-width="1"/>
<polyline points="37.0,356.2 50.5,353.5 60.0,351.0 75.0,350.0 90.0,351.0 104.8,353.5 121.5,354.3 129.2,354.6 137.0,358.5 144.0,362.3 155.6,364.5 165.0,362.9 172.7,361.9 176.6,361.6 181.8,363.5 188.2,368.1 193.4,369.4 199.8,371.9 206.3,373.0 212.7,375.2 219.2,377.1 225.6,378.4 233.4,377.7 239.8,376.5 245.0,374.5 261.3,364.1 275.5,360.5 293.0,361.0 311.0,360.5 321.6,364.1 335.8,372.2 357.1,376.5 371.3,369.4 385.5,360.5 396.1,363.0 410.3,371.2 421.3,380.0 431.6,394.2 440.0,402.6 445.8,405.9 448.4,406.5" fill="none" stroke="#ff0000" stroke-width="1.2" stroke-linejoin="round" stroke-linecap="round"/>
<polyline points="37.0,356.2 42.0,353.9 50.0,351.0 60.0,349.0 75.0,348.0 90.0,350.0 101.4,354.5 117.6,354.5 126.0,357.0 131.1,362.0 140.2,369.0 149.2,367.5 157.0,364.4 163.4,360.5 170.2,359.0 174.7,360.3 179.2,364.8 183.1,370.6 186.3,375.2 190.8,375.8 196.0,376.5 202.4,376.5 205.6,375.5 208.9,377.1 212.7,380.3 216.0,382.0 220.5,380.7 224.4,380.3 229.5,377.7 234.7,376.5 239.8,373.9 245.0,369.4 247.1,367.6 254.2,364.1 261.3,358.7 268.4,355.2 275.5,357.0 282.6,360.5 293.2,361.6 303.9,360.5 314.5,360.5 321.6,367.6 328.7,374.7 339.4,380.7 346.5,379.3 353.6,379.3 360.7,372.9 367.8,360.5 373.1,357.0 382.0,354.5 389.0,360.5 397.9,372.9 410.3,374.7 417.4,387.1 424.5,401.3 431.6,412.0 437.4,421.3 444.0,415.5 448.4,409.7" fill="none" stroke="#000" stroke-width="2" stroke-linejoin="round" stroke-linecap="round"/>
</g>
<g clip-path="url(#c_obv)">
<polyline points="37.0,500.0 47.2,497.0 70.9,491.7 87.8,486.9 104.8,480.8 121.7,475.7 138.6,472.3 155.6,470.0 172.5,467.9 189.4,466.6 206.4,465.9 223.3,465.2 240.0,463.0 275.5,456.6 311.0,451.3 346.5,449.5 382.0,444.9 399.7,443.1 417.4,444.2 435.2,444.9 447.6,444.2" fill="none" stroke="#00008b" stroke-width="1.2" stroke-linejoin="round" stroke-linecap="round"/>
<polyline points="37.0,490.3 43.8,488.3 50.5,489.3 55.6,485.9 60.7,487.6 70.9,482.5 74.3,484.2 98.0,472.3 101.4,474.0 109.8,467.3 116.6,463.9 120.0,465.6 125.1,463.9 133.5,467.9 138.6,466.6 148.8,463.9 153.9,465.6 162.3,461.2 170.8,463.9 186.0,468.3 189.4,466.6 192.8,468.3 206.4,462.2 213.2,465.6 221.6,462.2 226.7,463.2 233.5,460.5 240.2,457.1 247.1,452.4 256.0,455.9 266.6,449.5 279.0,455.5 298.6,446.0 302.1,447.0 307.4,444.9 311.0,446.7 314.5,444.9 321.6,449.5 327.0,447.7 332.3,449.5 342.9,446.0 351.8,451.3 362.4,444.2 371.3,440.6 376.6,442.4 383.7,437.1 389.0,439.9 396.1,438.9 401.5,441.4 406.8,440.6 413.9,444.9 419.2,443.5 426.3,447.7 431.6,445.9 437.0,447.0 442.3,443.5 447.6,442.8" fill="none" stroke="#000" stroke-width="2" stroke-linejoin="round" stroke-linecap="round"/>
</g>
<g clip-path="url(#c_adx)">
<polyline points="37.0,522.4 42.1,519.7 47.2,520.4 52.2,516.3 57.3,519.7 64.1,523.1 69.2,515.6 74.3,521.4 81.0,519.0 86.1,525.8 91.2,517.0 96.3,519.7 103.1,516.3 109.8,519.7 114.9,517.0 121.7,519.0 126.8,514.6 130.2,518.0 133.5,523.1 138.6,521.4 145.4,523.1 148.8,516.3 153.9,519.0 164.0,520.4 169.1,518.0 175.9,523.1 181.0,533.3 187.7,526.5 192.8,525.8 197.9,529.2 203.0,523.1 208.1,532.6 213.2,524.8 218.2,522.4 225.0,516.3 231.8,521.4 238.0,519.0 241.0,518.0 247.1,510.2 254.2,516.6 261.3,507.4 268.4,503.1 277.3,522.6 284.4,523.7 287.9,515.5 293.2,518.0 298.6,513.7 303.9,520.1 311.0,524.4 318.1,531.5 323.4,540.4 328.7,547.5 334.0,549.2 342.9,542.1 350.0,547.5 357.1,535.0 366.0,520.8 373.1,520.1 380.2,524.4 387.3,537.9 392.6,541.4 397.9,535.0 403.2,529.7 408.6,531.5 413.9,538.6 421.0,543.9 428.1,549.2 435.2,554.6 440.5,547.5 447.6,540.4" fill="none" stroke="#2e8b57" stroke-width="1.2" stroke-linejoin="round" stroke-linecap="round"/>
<polyline points="37.0,548.5 43.8,550.2 48.9,546.8 53.9,551.9 60.7,543.4 67.5,548.5 72.6,546.8 79.3,553.6 86.1,548.5 92.9,550.2 99.7,541.7 106.5,545.1 114.9,543.4 125.1,548.5 130.0,540.0 133.5,524.8 142.0,533.3 155.6,543.4 164.0,553.6 170.8,552.9 175.9,550.2 182.7,524.8 186.0,528.2 196.2,533.3 206.4,541.7 213.2,524.8 221.6,538.3 230.1,539.4 240.0,542.5 247.1,540.4 254.2,542.1 259.5,536.8 268.4,533.3 275.5,538.6 279.0,533.3 286.1,537.2 295.0,537.9 303.9,542.1 312.7,543.9 318.1,547.5 321.6,522.6 326.9,527.9 330.5,523.7 337.6,533.3 344.7,543.9 351.8,530.8 358.9,536.8 364.2,542.1 373.1,547.5 380.2,543.9 389.0,531.5 397.9,517.3 406.8,526.2 413.9,515.5 419.2,519.1 424.5,513.7 431.6,519.1 438.7,523.7 447.6,532.6" fill="none" stroke="#b0204f" stroke-width="1.2" stroke-linejoin="round" stroke-linecap="round"/>
<polyline points="37.0,546.1 47.2,540.0 57.3,538.3 70.9,533.3 87.8,529.9 98.0,526.5 111.5,525.8 125.1,524.8 131.8,528.2 145.4,531.6 159.0,529.9 169.1,524.8 175.9,525.8 186.0,533.3 199.6,538.3 209.8,540.0 216.5,545.1 226.7,546.1 240.0,545.0 254.2,540.4 271.9,536.8 286.1,539.3 311.0,539.3 332.3,540.4 346.5,545.0 360.7,548.5 378.4,547.5 392.6,549.2 403.2,551.0 413.9,553.5 424.5,551.0 435.2,545.7 442.3,542.8 447.6,543.9" fill="none" stroke="#000" stroke-width="2" stroke-linejoin="round" stroke-linecap="round"/>
</g>
<g clip-path="url(#c_sto)">
<line x1="38" y1="580.5" x2="570" y2="580.5" stroke="#6e6e6e" stroke-width="1"/>
<line x1="38" y1="611.5" x2="570" y2="611.5" stroke="#6e6e6e" stroke-width="1"/>
<line x1="38" y1="595.5" x2="570" y2="595.5" stroke="#555" stroke-width="1" stroke-dasharray="7,3,2,3"/>
<polyline points="37.0,566.0 120.0,566.0 128.9,585.2 139.6,602.6 142.5,595.9 149.3,585.2 160.0,570.0 175.0,568.0 180.2,585.2 186.0,598.4 192.8,595.3 197.6,588.1 202.5,585.2 206.0,575.0 210.2,585.2 216.0,592.6 222.8,581.4 226.7,576.5 232.5,575.2 240.0,572.0 264.8,569.8 271.9,578.0 279.0,586.1 286.1,585.1 296.8,574.4 305.0,575.5 311.0,578.0 316.0,575.0 321.6,586.8 328.7,605.3 334.0,597.5 341.1,597.5 346.5,586.8 353.6,580.5 360.7,579.7 366.0,571.9 373.1,571.9 382.0,578.0 389.0,584.0 396.1,597.5 401.5,597.5 408.6,588.6 412.1,585.1 417.4,597.5 424.5,608.1 433.4,614.5 438.7,613.5 444.0,601.0 449.4,586.1" fill="none" stroke="#a07068" stroke-width="1.2" stroke-linejoin="round" stroke-linecap="round"/>
<polyline points="37.0,566.0 180.0,570.0 184.1,586.2 188.0,587.2 191.8,585.6 196.0,574.0 215.0,572.0 221.8,581.0 225.7,576.5 230.5,575.2 240.0,572.0 264.8,569.8 271.2,569.7 279.0,576.9 286.1,576.0 296.8,572.6 314.5,572.6 321.6,576.9 328.7,584.0 335.8,581.5 346.5,578.0 353.6,576.2 360.7,574.4 367.8,570.9 374.8,572.6 382.0,575.5 389.0,579.0 396.1,588.6 401.5,592.2 406.8,589.7 412.1,585.1 417.4,594.0 424.5,604.6 433.4,615.9 437.0,615.2 442.3,604.6 449.4,594.0" fill="none" stroke="#000" stroke-width="2" stroke-linejoin="round" stroke-linecap="round"/>
</g>
<g clip-path="url(#c_roc)">
<line x1="38" y1="700.5" x2="570" y2="700.5" stroke="#555" stroke-width="1" stroke-dasharray="7,3,2,3"/>
<polyline points="37.0,699.1 45.5,699.1 53.9,691.7 59.0,693.0 64.1,696.4 67.5,695.8 72.6,693.0 76.0,694.0 79.3,690.7 87.8,689.0 91.2,691.7 94.6,690.0 104.8,693.0 111.5,692.4 116.6,688.3 120.0,691.7 126.8,690.7 131.8,694.1 135.2,690.7 138.6,692.4 143.7,690.7 147.0,690.7 152.2,688.3 155.6,689.6 160.6,686.6 165.7,688.3 179.3,693.0 182.7,692.4 189.4,687.3 196.2,683.9 203.0,683.2 208.1,678.8 213.2,680.5 219.9,678.8 225.0,679.5 230.1,673.7 233.5,674.7 236.9,668.6 242.0,667.0 245.3,668.1 250.6,664.2 256.0,667.0 261.3,664.9 266.6,665.6 271.9,669.9 275.5,667.0 279.0,667.0 282.6,661.7 287.9,661.0 295.0,662.4 302.1,640.4 309.2,635.1 312.7,654.6 317.4,647.5 321.6,656.4 326.9,654.6 332.3,650.0 335.8,650.0 341.1,644.0 344.7,645.0 348.2,648.6 353.6,658.2 357.1,659.2 362.4,655.7 367.8,652.8 371.3,654.6 376.6,660.6 383.7,654.6 387.3,659.2 392.6,661.7 397.9,670.6 403.2,670.0 406.8,671.3 412.8,674.8 431.6,674.8 437.0,680.5 442.3,674.8 447.6,673.4" fill="none" stroke="#000" stroke-width="2" stroke-linejoin="round" stroke-linecap="round"/>
</g>
<g clip-path="url(#c_iwm)">
<polyline points="37.0,753.4 53.9,752.7 70.9,755.1 87.8,752.7 104.8,749.4 121.7,746.6 138.6,739.2 155.6,733.1 172.5,733.8 189.4,739.9 206.4,746.6 223.3,755.1 240.2,757.5 293.2,754.6 311.0,753.2 325.2,753.9 332.3,758.5 346.5,758.5 357.1,756.7 367.8,750.4 382.0,743.3 392.6,739.0 403.2,737.2 417.4,734.4 424.5,730.8 435.2,730.1 442.3,730.8 449.4,733.7" fill="none" stroke="#00008b" stroke-width="1.2" stroke-linejoin="round" stroke-linecap="round"/>
<polyline points="37.0,743.3 43.8,740.9 47.2,755.1 50.5,759.5 55.6,758.5 59.0,755.1 62.4,759.5 65.8,760.2 70.9,763.6 74.3,755.1 77.7,758.5 82.1,739.2 89.5,750.0 98.0,738.2 104.8,755.1 108.1,741.6 113.2,742.6 118.3,738.2 123.4,734.8 128.5,722.9 135.2,725.6 139.6,738.2 144.7,726.3 148.8,719.6 152.0,712.0 155.6,719.6 163.0,745.0 168.4,733.1 172.5,736.5 177.6,741.6 182.7,745.0 189.4,766.3 194.5,759.5 201.3,767.0 206.4,763.6 213.2,770.4 216.5,762.9 221.6,764.3 225.0,768.7 231.8,758.5 235.2,756.8 240.0,766.3 245.3,752.1 248.9,750.4 252.5,750.4 256.0,753.9 259.5,766.3 263.1,753.9 268.4,753.2 271.9,759.2 277.3,751.4 282.6,755.0 289.7,750.4 295.0,748.6 298.6,750.4 302.1,758.5 307.4,755.7 311.0,752.1 317.4,747.9 323.4,753.9 328.7,775.2 333.0,777.0 341.1,753.9 344.7,759.2 351.8,751.4 357.1,755.0 360.7,755.0 364.2,743.3 371.3,720.2 376.6,725.5 380.2,725.5 383.7,718.4 387.3,722.0 390.8,729.1 396.1,730.8 399.7,734.4 403.2,725.5 408.6,727.3 413.2,723.7 416.7,723.0 421.0,714.9 425.2,727.3 429.9,723.7 433.4,729.1 438.0,741.5 440.5,733.7 445.1,746.8 448.7,747.9" fill="none" stroke="#000" stroke-width="2" stroke-linejoin="round" stroke-linecap="round"/>
</g>
<line x1="413" y1="28" x2="413" y2="785" stroke="#ff0000" stroke-width="2" stroke-dasharray="4,2"/>
<line x1="440.5" y1="28" x2="440.5" y2="786" stroke="#007a00" stroke-width="1" stroke-dasharray="3,3"/>
<rect x="366" y="48" width="2" height="166" fill="#ff0000"/>
<polygon points="361,124.4 373.3,124.4 367.2,135" fill="#ff0000"/>
<polygon points="361,208.1 373.3,208.1 367.2,219.5" fill="#ff0000"/>
<polygon points="390.1,271 397.9,271 397.9,279.4 401.8,279.4 394.0,286.7 386.2,279.4 390.1,279.4" fill="#ff0000"/>
<polygon points="408.9,271 416.7,271 416.7,279.4 420.6,279.4 412.8,286.4 405.0,279.4 408.9,279.4" fill="#ff0000"/>
<polygon points="429.1,275 436.9,275 436.9,283.3 440.8,283.3 433.0,290.7 425.2,283.3 429.1,283.3" fill="#ff0000"/>
<polygon points="390.1,342 397.9,342 397.9,349.3 401.8,349.3 394.0,357 386.2,349.3 390.1,349.3" fill="#ff0000"/>
<polygon points="437.0,452.1 444.8,459.7 440.9,459.7 440.9,467.9 433.1,467.9 433.1,459.7 429.2,459.7" fill="#006400"/>
<polygon points="386.0,547.3 393.8,554.8 389.9,554.8 389.9,562.5 382.1,562.5 382.1,554.8 378.2,554.8" fill="#ff0000"/>
<polygon points="413.0,575.9 420.8,575.9 420.8,584.1 424.7,584.1 416.9,591.8 409.1,584.1 413.0,584.1" fill="#ff0000"/>
<polygon points="436.1,712.1 443.9,712.1 443.9,720.3 447.8,720.3 440.0,727.9 432.2,720.3 436.1,720.3" fill="#ff0000"/>
<polygon points="444.0,65 451.8,65 451.8,73.2 455.7,73.2 447.9,80.7 440.1,73.2 444.0,73.2" fill="#0000ff"/>
<polygon points="393.8,129.4 400.9,137 397.9,137 397.9,144.7 389.8,144.7 389.8,137 386.8,137" fill="#0000ff"/>
<rect x="38" y="29" width="162" height="12" fill="#fff"/>
<rect x="38" y="41" width="116" height="11" fill="#fff"/>
<rect x="38" y="52" width="88" height="11" fill="#fff"/>
<rect x="38" y="63" width="88" height="11" fill="#fff"/>
<rect x="38" y="74" width="93" height="11" fill="#fff"/>
<rect x="38" y="85" width="88" height="10" fill="#fff"/>
<g><rect x="41" y="31" width="1" height="7" fill="#000"/><rect x="40.5" y="32.5" width="2" height="3" fill="#fff" stroke="#000"/><rect x="44" y="34" width="1" height="5" fill="#000"/><rect x="43" y="34" width="3" height="4" fill="#000"/><rect x="47" y="31" width="1" height="8" fill="#000"/><rect x="46.5" y="32.5" width="2" height="5" fill="#fff" stroke="#000"/></g>
<text x="52.8" y="38.8" font-size="10.2" fill="#000" font-family='"DejaVu Sans", sans-serif' textLength="144.8" lengthAdjust="spacing">$COMPQ (Daily) 23214.69</text>
<rect x="40.5" y="45.5" width="2" height="2" fill="#dde3e8" stroke="#60788a" stroke-width="1"/>
<rect x="46.5" y="43.5" width="2" height="2" fill="#dde3e8" stroke="#60788a" stroke-width="1"/>
<text x="50.9" y="50.1" font-size="10" fill="#778899" font-family='"DejaVu Sans Condensed", "DejaVu Sans", sans-serif' textLength="101.5" lengthAdjust="spacing">SAR(0.02,0.2) 21921.72</text>
<rect x="39.8" y="56" width="8.8" height="2.2" fill="#daa520"/>
<text x="50.9" y="60.9" font-size="10" fill="#daa520" font-family='"DejaVu Sans Condensed", "DejaVu Sans", sans-serif' textLength="73.3" lengthAdjust="spacing">MA(20) 23069.46</text>
<rect x="39.8" y="67.1" width="8.8" height="2.2" fill="#dc143c"/>
<text x="50.9" y="71.9" font-size="10" fill="#dc143c" font-family='"DejaVu Sans Condensed", "DejaVu Sans", sans-serif' textLength="73.3" lengthAdjust="spacing">MA(50) 22924.75</text>
<rect x="39.8" y="77.8" width="9.3" height="2.2" fill="#000"/>
<text x="50.9" y="82.8" font-size="10" fill="#000" font-family='"DejaVu Sans Condensed", "DejaVu Sans", sans-serif' textLength="78" lengthAdjust="spacing">MA(200) 20295.09</text>
<rect x="39.8" y="87.9" width="7.8" height="2.2" fill="#000"/>
<text x="50.9" y="92.9" font-size="10" fill="#000" font-family='"DejaVu Sans Condensed", "DejaVu Sans", sans-serif' textLength="72.8" lengthAdjust="spacing">ATR(20) 431.474</text>
<rect x="38" y="264" width="93" height="12" fill="#fff"/>
<g fill="#a0a0a0" stroke="#404040" stroke-width="1"><rect x="40.5" y="269.5" width="2" height="4"/><rect x="43.5" y="265.5" width="2" height="8"/><rect x="46.5" y="267.5" width="2" height="6"/></g>
<text x="52.7" y="273.6" font-size="10.2" fill="#000" font-family='"DejaVu Sans", sans-serif' textLength="77" lengthAdjust="spacing">Volume undef</text>
<rect x="38" y="342" width="251" height="12" fill="#fff"/>
<rect x="39.8" y="347.3" width="8.8" height="2.2" fill="#000"/>
<text x="53.1" y="352.3" font-size="10.2" fill="#000" font-family='"DejaVu Sans", sans-serif' textLength="131.1" lengthAdjust="spacing">MACD(12,26,9) -59.934</text>
<text x="185.8" y="352.3" font-size="10.2" fill="#ff0000" font-family='"DejaVu Sans", sans-serif' textLength="50" lengthAdjust="spacing">, -38.175</text>
<text x="237" y="352.3" font-size="10.2" fill="#4a90c0" font-family='"DejaVu Sans", sans-serif' textLength="50.4" lengthAdjust="spacing">, -21.759</text>
<rect x="38" y="431" width="99" height="12" fill="#fff"/>
<rect x="38" y="443" width="53" height="11" fill="#fff"/>
<rect x="39.8" y="436.1" width="8.8" height="2.2" fill="#000"/>
<text x="53" y="441" font-size="10.2" fill="#000" font-family='"DejaVu Sans", sans-serif' textLength="82.5" lengthAdjust="spacing">On Balance Vol</text>
<rect x="39.8" y="446.7" width="8.8" height="2.2" fill="#00008b"/>
<text x="50.8" y="452.2" font-size="10" fill="#00008b" font-family='"DejaVu Sans Condensed", "DejaVu Sans", sans-serif' textLength="38.5" lengthAdjust="spacing">EMA(20)</text>
<rect x="38" y="497" width="216" height="12" fill="#fff"/>
<rect x="39.8" y="502" width="8.8" height="2.2" fill="#000"/>
<text x="52.6" y="506.8" font-size="10.2" fill="#000" font-family='"DejaVu Sans", sans-serif' textLength="80.2" lengthAdjust="spacing">ADX(14) 19.57</text>
<text x="138.9" y="506.8" font-size="10.2" fill="#1e7b3c" font-family='"DejaVu Sans", sans-serif' textLength="55.2" lengthAdjust="spacing">+DI 22.11</text>
<text x="199.9" y="506.8" font-size="10.2" fill="#a0103c" font-family='"DejaVu Sans", sans-serif' textLength="52.3" lengthAdjust="spacing">-DI 25.85</text>
<rect x="38" y="563" width="228" height="12" fill="#fff"/>
<rect x="38" y="575" width="183" height="10" fill="#fff"/>
<rect x="39.8" y="568.1" width="8.8" height="2.2" fill="#000"/>
<text x="52.8" y="572.6" font-size="10.2" fill="#000" font-family='"DejaVu Sans", sans-serif' textLength="175.3" lengthAdjust="spacing">Slow STO %K(39) %D(1) 53.69,</text>
<text x="233" y="572.6" font-size="10.2" fill="#ff0000" font-family='"DejaVu Sans", sans-serif' textLength="31" lengthAdjust="spacing">53.69</text>
<rect x="39.8" y="577.8" width="8.8" height="2.2" fill="#000"/>
<text x="50.9" y="582.5" font-size="10" fill="#000" font-family='"DejaVu Sans Condensed", "DejaVu Sans", sans-serif' textLength="144.1" lengthAdjust="spacing">Slow STO %K(14) %D(1) 67.41,</text>
<text x="197.4" y="582.5" font-size="10" fill="#ff0000" font-family='"DejaVu Sans Condensed", "DejaVu Sans", sans-serif' textLength="22.1" lengthAdjust="spacing">67.41</text>
<rect x="38" y="629" width="118" height="12" fill="#fff"/>
<rect x="39.8" y="634.2" width="8.8" height="2.2" fill="#000"/>
<text x="53" y="638.8" font-size="10.2" fill="#000" font-family='"DejaVu Sans", sans-serif' textLength="100.9" lengthAdjust="spacing">ROC(125) 21.46%</text>
<rect x="38" y="707" width="129" height="12" fill="#fff"/>
<rect x="38" y="719" width="79" height="10" fill="#fff"/>
<rect x="39.8" y="712.3" width="8.8" height="2.2" fill="#000"/>
<text x="52.8" y="717.2" font-size="10.2" fill="#000" font-family='"DejaVu Sans", sans-serif' textLength="112.9" lengthAdjust="spacing">$COMPQ:IWM 93.86</text>
<rect x="39.8" y="723" width="8.8" height="2.2" fill="#00008b"/>
<text x="50.5" y="727.3" font-size="10" fill="#00008b" font-family='"DejaVu Sans Condensed", "DejaVu Sans", sans-serif' textLength="64.4" lengthAdjust="spacing">EMA(20) 95.37</text>
<rect x="37.5" y="28.5" width="533" height="221" fill="none" stroke="#c0c0c0" stroke-width="1"/>
<rect x="37.5" y="263.5" width="533" height="78" fill="none" stroke="#c0c0c0" stroke-width="1"/>
<rect x="37.5" y="341.5" width="533" height="89" fill="none" stroke="#c0c0c0" stroke-width="1"/>
<rect x="37.5" y="430.5" width="533" height="66" fill="none" stroke="#c0c0c0" stroke-width="1"/>
<rect x="37.5" y="496.5" width="533" height="66" fill="none" stroke="#c0c0c0" stroke-width="1"/>
<rect x="37.5" y="562.5" width="533" height="66" fill="none" stroke="#c0c0c0" stroke-width="1"/>
<rect x="37.5" y="628.5" width="533" height="78" fill="none" stroke="#c0c0c0" stroke-width="1"/>
<rect x="37.5" y="706.5" width="533" height="78" fill="none" stroke="#c0c0c0" stroke-width="1"/>
<line x1="571" y1="233.5" x2="574" y2="233.5" stroke="#c0c0c0" stroke-width="1"/>
<text x="603" y="237.04999999999998" font-size="10.4" fill="#000" text-anchor="end">20000</text>
<line x1="571" y1="222.5" x2="574" y2="222.5" stroke="#c0c0c0" stroke-width="1"/>
<text x="603" y="225.49999999999997" font-size="10.4" fill="#000" text-anchor="end">20250</text>
<line x1="571" y1="210.5" x2="574" y2="210.5" stroke="#c0c0c0" stroke-width="1"/>
<text x="603" y="213.95" font-size="10.4" fill="#000" text-anchor="end">20500</text>
<line x1="571" y1="199.5" x2="574" y2="199.5" stroke="#c0c0c0" stroke-width="1"/>
<text x="603" y="202.39999999999998" font-size="10.4" fill="#000" text-anchor="end">20750</text>
<line x1="571" y1="187.5" x2="574" y2="187.5" stroke="#c0c0c0" stroke-width="1"/>
<text x="603" y="190.85" font-size="10.4" fill="#000" text-anchor="end">21000</text>
<line x1="571" y1="176.5" x2="574" y2="176.5" stroke="#c0c0c0" stroke-width="1"/>
<text x="603" y="179.29999999999998" font-size="10.4" fill="#000" text-anchor="end">21250</text>
<line x1="571" y1="164.5" x2="574" y2="164.5" stroke="#c0c0c0" stroke-width="1"/>
<text x="603" y="167.75" font-size="10.4" fill="#000" text-anchor="end">21500</text>
<line x1="571" y1="153.5" x2="574" y2="153.5" stroke="#c0c0c0" stroke-width="1"/>
<text x="603" y="156.2" font-size="10.4" fill="#000" text-anchor="end">21750</text>
<line x1="571" y1="141.5" x2="574" y2="141.5" stroke="#c0c0c0" stroke-width="1"/>
<text x="603" y="144.64999999999998" font-size="10.4" fill="#000" text-anchor="end">22000</text>
<line x1="571" y1="130.5" x2="574" y2="130.5" stroke="#c0c0c0" stroke-width="1"/>
<text x="603" y="133.1" font-size="10.4" fill="#000" text-anchor="end">22250</text>
<line x1="571" y1="118.5" x2="574" y2="118.5" stroke="#c0c0c0" stroke-width="1"/>
<text x="603" y="121.54999999999998" font-size="10.4" fill="#000" text-anchor="end">22500</text>
<line x1="571" y1="106.5" x2="574" y2="106.5" stroke="#c0c0c0" stroke-width="1"/>
<text x="603" y="110.0" font-size="10.4" fill="#000" text-anchor="end">22750</text>
<line x1="571" y1="95.5" x2="574" y2="95.5" stroke="#c0c0c0" stroke-width="1"/>
<text x="603" y="98.44999999999999" font-size="10.4" fill="#000" text-anchor="end">23000</text>
<line x1="571" y1="83.5" x2="574" y2="83.5" stroke="#c0c0c0" stroke-width="1"/>
<text x="603" y="86.89999999999999" font-size="10.4" fill="#000" text-anchor="end">23250</text>
<line x1="571" y1="72.5" x2="574" y2="72.5" stroke="#c0c0c0" stroke-width="1"/>
<text x="603" y="75.35" font-size="10.4" fill="#000" text-anchor="end">23500</text>
<line x1="571" y1="60.5" x2="574" y2="60.5" stroke="#c0c0c0" stroke-width="1"/>
<text x="603" y="63.800000000000004" font-size="10.4" fill="#000" text-anchor="end">23750</text>
<line x1="571" y1="49.5" x2="574" y2="49.5" stroke="#c0c0c0" stroke-width="1"/>
<text x="603" y="52.25" font-size="10.4" fill="#000" text-anchor="end">24000</text>
<line x1="571" y1="37.5" x2="574" y2="37.5" stroke="#c0c0c0" stroke-width="1"/>
<text x="603" y="40.7" font-size="10.4" fill="#000" text-anchor="end">24250</text>
<line x1="34" y1="37.5" x2="37" y2="37.5" stroke="#c0c0c0" stroke-width="1"/>
<text x="33" y="40.300000000000004" font-size="10.4" fill="#000" text-anchor="end">440</text>
<line x1="34" y1="55.5" x2="37" y2="55.5" stroke="#c0c0c0" stroke-width="1"/>
<text x="33" y="58.6" font-size="10.4" fill="#000" text-anchor="end">420</text>
<line x1="34" y1="73.5" x2="37" y2="73.5" stroke="#c0c0c0" stroke-width="1"/>
<text x="33" y="76.9" font-size="10.4" fill="#000" text-anchor="end">400</text>
<line x1="34" y1="92.5" x2="37" y2="92.5" stroke="#c0c0c0" stroke-width="1"/>
<text x="33" y="95.2" font-size="10.4" fill="#000" text-anchor="end">380</text>
<line x1="34" y1="110.5" x2="37" y2="110.5" stroke="#c0c0c0" stroke-width="1"/>
<text x="33" y="113.5" font-size="10.4" fill="#000" text-anchor="end">360</text>
<line x1="34" y1="128.5" x2="37" y2="128.5" stroke="#c0c0c0" stroke-width="1"/>
<text x="33" y="131.79999999999998" font-size="10.4" fill="#000" text-anchor="end">340</text>
<line x1="34" y1="146.5" x2="37" y2="146.5" stroke="#c0c0c0" stroke-width="1"/>
<text x="33" y="150.1" font-size="10.4" fill="#000" text-anchor="end">320</text>
<line x1="34" y1="165.5" x2="37" y2="165.5" stroke="#c0c0c0" stroke-width="1"/>
<text x="33" y="168.4" font-size="10.4" fill="#000" text-anchor="end">300</text>
<line x1="34" y1="183.5" x2="37" y2="183.5" stroke="#c0c0c0" stroke-width="1"/>
<text x="33" y="186.70000000000002" font-size="10.4" fill="#000" text-anchor="end">280</text>
<line x1="34" y1="201.5" x2="37" y2="201.5" stroke="#c0c0c0" stroke-width="1"/>
<text x="33" y="205.00000000000003" font-size="10.4" fill="#000" text-anchor="end">260</text>
<line x1="34" y1="220.5" x2="37" y2="220.5" stroke="#c0c0c0" stroke-width="1"/>
<text x="33" y="223.29999999999998" font-size="10.4" fill="#000" text-anchor="end">240</text>
<line x1="34" y1="238.5" x2="37" y2="238.5" stroke="#c0c0c0" stroke-width="1"/>
<text x="33" y="241.6" font-size="10.4" fill="#000" text-anchor="end">220</text>
<line x1="571" y1="269.5" x2="574" y2="269.5" stroke="#c0c0c0" stroke-width="1"/>
<text x="601.5" y="272.20000000000005" font-size="10.4" fill="#000" text-anchor="end">15.0B</text>
<line x1="571" y1="281.5" x2="574" y2="281.5" stroke="#c0c0c0" stroke-width="1"/>
<text x="601.5" y="284.28000000000003" font-size="10.4" fill="#000" text-anchor="end">12.5B</text>
<line x1="571" y1="293.5" x2="574" y2="293.5" stroke="#c0c0c0" stroke-width="1"/>
<text x="601.5" y="296.36000000000007" font-size="10.4" fill="#000" text-anchor="end">10.0B</text>
<line x1="571" y1="305.5" x2="574" y2="305.5" stroke="#c0c0c0" stroke-width="1"/>
<text x="601.5" y="308.44000000000005" font-size="10.4" fill="#000" text-anchor="end">7.5B</text>
<line x1="571" y1="317.5" x2="574" y2="317.5" stroke="#c0c0c0" stroke-width="1"/>
<text x="601.5" y="320.52000000000004" font-size="10.4" fill="#000" text-anchor="end">5.0B</text>
<line x1="571" y1="329.5" x2="574" y2="329.5" stroke="#c0c0c0" stroke-width="1"/>
<text x="601.5" y="332.6" font-size="10.4" fill="#000" text-anchor="end">2.5B</text>
<line x1="571" y1="349.5" x2="574" y2="349.5" stroke="#c0c0c0" stroke-width="1"/>
<text x="594" y="353.0" font-size="10.4" fill="#000" text-anchor="end">400</text>
<line x1="571" y1="362.5" x2="574" y2="362.5" stroke="#c0c0c0" stroke-width="1"/>
<text x="594" y="365.9" font-size="10.4" fill="#000" text-anchor="end">300</text>
<line x1="571" y1="375.5" x2="574" y2="375.5" stroke="#c0c0c0" stroke-width="1"/>
<text x="594" y="378.8" font-size="10.4" fill="#000" text-anchor="end">200</text>
<line x1="571" y1="388.5" x2="574" y2="388.5" stroke="#c0c0c0" stroke-width="1"/>
<text x="594" y="391.7" font-size="10.4" fill="#000" text-anchor="end">100</text>
<line x1="571" y1="401.5" x2="574" y2="401.5" stroke="#c0c0c0" stroke-width="1"/>
<text x="594" y="404.6" font-size="10.4" fill="#000" text-anchor="end">0</text>
<line x1="571" y1="414.5" x2="574" y2="414.5" stroke="#c0c0c0" stroke-width="1"/>
<text x="594" y="417.5" font-size="10.4" fill="#000" text-anchor="end">-100</text>
<line x1="571" y1="427.5" x2="574" y2="427.5" stroke="#c0c0c0" stroke-width="1"/>
<text x="594" y="430.4" font-size="10.4" fill="#000" text-anchor="end">-200</text>
<line x1="571" y1="435.5" x2="573" y2="435.5" stroke="#c0c0c0" stroke-width="1"/>
<line x1="571" y1="441.5" x2="573" y2="441.5" stroke="#c0c0c0" stroke-width="1"/>
<line x1="571" y1="446.5" x2="573" y2="446.5" stroke="#c0c0c0" stroke-width="1"/>
<line x1="571" y1="452.5" x2="573" y2="452.5" stroke="#c0c0c0" stroke-width="1"/>
<line x1="571" y1="457.5" x2="573" y2="457.5" stroke="#c0c0c0" stroke-width="1"/>
<line x1="571" y1="462.5" x2="573" y2="462.5" stroke="#c0c0c0" stroke-width="1"/>
<line x1="571" y1="468.5" x2="573" y2="468.5" stroke="#c0c0c0" stroke-width="1"/>
<line x1="571" y1="473.5" x2="573" y2="473.5" stroke="#c0c0c0" stroke-width="1"/>
<line x1="571" y1="479.5" x2="573" y2="479.5" stroke="#c0c0c0" stroke-width="1"/>
<line x1="571" y1="484.5" x2="573" y2="484.5" stroke="#c0c0c0" stroke-width="1"/>
<line x1="571" y1="490.5" x2="573" y2="490.5" stroke="#c0c0c0" stroke-width="1"/>
<line x1="571" y1="507.5" x2="574" y2="507.5" stroke="#c0c0c0" stroke-width="1"/>
<text x="585.5" y="510.5" font-size="10.4" fill="#000" text-anchor="end">40</text>
<line x1="571" y1="525.5" x2="574" y2="525.5" stroke="#c0c0c0" stroke-width="1"/>
<text x="585.5" y="528.8" font-size="10.4" fill="#000" text-anchor="end">30</text>
<line x1="571" y1="544.5" x2="574" y2="544.5" stroke="#c0c0c0" stroke-width="1"/>
<text x="585.5" y="547.1" font-size="10.4" fill="#000" text-anchor="end">20</text>
<line x1="571" y1="500.5" x2="573" y2="500.5" stroke="#c0c0c0" stroke-width="1"/>
<line x1="571" y1="503.5" x2="573" y2="503.5" stroke="#c0c0c0" stroke-width="1"/>
<line x1="571" y1="511.5" x2="573" y2="511.5" stroke="#c0c0c0" stroke-width="1"/>
<line x1="571" y1="514.5" x2="573" y2="514.5" stroke="#c0c0c0" stroke-width="1"/>
<line x1="571" y1="518.5" x2="573" y2="518.5" stroke="#c0c0c0" stroke-width="1"/>
<line x1="571" y1="522.5" x2="573" y2="522.5" stroke="#c0c0c0" stroke-width="1"/>
<line x1="571" y1="529.5" x2="573" y2="529.5" stroke="#c0c0c0" stroke-width="1"/>
<line x1="571" y1="533.5" x2="573" y2="533.5" stroke="#c0c0c0" stroke-width="1"/>
<line x1="571" y1="536.5" x2="573" y2="536.5" stroke="#c0c0c0" stroke-width="1"/>
<line x1="571" y1="540.5" x2="573" y2="540.5" stroke="#c0c0c0" stroke-width="1"/>
<line x1="571" y1="547.5" x2="573" y2="547.5" stroke="#c0c0c0" stroke-width="1"/>
<line x1="571" y1="551.5" x2="573" y2="551.5" stroke="#c0c0c0" stroke-width="1"/>
<line x1="571" y1="554.5" x2="573" y2="554.5" stroke="#c0c0c0" stroke-width="1"/>
<line x1="571" y1="558.5" x2="573" y2="558.5" stroke="#c0c0c0" stroke-width="1"/>
<line x1="571" y1="580.5" x2="574" y2="580.5" stroke="#c0c0c0" stroke-width="1"/>
<text x="585.5" y="583.3000000000001" font-size="10.4" fill="#000" text-anchor="end">80</text>
<line x1="571" y1="595.5" x2="574" y2="595.5" stroke="#c0c0c0" stroke-width="1"/>
<text x="585.5" y="598.9" font-size="10.4" fill="#000" text-anchor="end">50</text>
<line x1="571" y1="611.5" x2="574" y2="611.5" stroke="#c0c0c0" stroke-width="1"/>
<text x="585.5" y="614.6" font-size="10.4" fill="#000" text-anchor="end">20</text>
<line x1="571" y1="635.5" x2="574" y2="635.5" stroke="#c0c0c0" stroke-width="1"/>
<text x="585.5" y="638.2" font-size="10.4" fill="#000" text-anchor="end">50</text>
<line x1="571" y1="648.5" x2="574" y2="648.5" stroke="#c0c0c0" stroke-width="1"/>
<text x="585.5" y="651.22" font-size="10.4" fill="#000" text-anchor="end">40</text>
<line x1="571" y1="661.5" x2="574" y2="661.5" stroke="#c0c0c0" stroke-width="1"/>
<text x="585.5" y="664.24" font-size="10.4" fill="#000" text-anchor="end">30</text>
<line x1="571" y1="674.5" x2="574" y2="674.5" stroke="#c0c0c0" stroke-width="1"/>
<text x="585.5" y="677.2600000000001" font-size="10.4" fill="#000" text-anchor="end">20</text>
<line x1="571" y1="687.5" x2="574" y2="687.5" stroke="#c0c0c0" stroke-width="1"/>
<text x="585.5" y="690.2800000000001" font-size="10.4" fill="#000" text-anchor="end">10</text>
<line x1="571" y1="700.5" x2="574" y2="700.5" stroke="#c0c0c0" stroke-width="1"/>
<text x="585.5" y="703.3000000000001" font-size="10.4" fill="#000" text-anchor="end">0</text>
<line x1="571" y1="710.5" x2="574" y2="710.5" stroke="#c0c0c0" stroke-width="1"/>
<text x="585.5" y="713.3000000000001" font-size="10.4" fill="#000" text-anchor="end">98</text>
<line x1="571" y1="728.5" x2="574" y2="728.5" stroke="#c0c0c0" stroke-width="1"/>
<text x="585.5" y="731.1300000000001" font-size="10.4" fill="#000" text-anchor="end">96</text>
<line x1="571" y1="745.5" x2="574" y2="745.5" stroke="#c0c0c0" stroke-width="1"/>
<text x="585.5" y="748.96" font-size="10.4" fill="#000" text-anchor="end">94</text>
<line x1="571" y1="763.5" x2="574" y2="763.5" stroke="#c0c0c0" stroke-width="1"/>
<text x="585.5" y="766.7900000000001" font-size="10.4" fill="#000" text-anchor="end">92</text>
<line x1="571" y1="710.5" x2="573" y2="710.5" stroke="#c0c0c0" stroke-width="1"/>
<line x1="571" y1="714.5" x2="573" y2="714.5" stroke="#c0c0c0" stroke-width="1"/>
<line x1="571" y1="719.5" x2="573" y2="719.5" stroke="#c0c0c0" stroke-width="1"/>
<line x1="571" y1="723.5" x2="573" y2="723.5" stroke="#c0c0c0" stroke-width="1"/>
<line x1="571" y1="728.5" x2="573" y2="728.5" stroke="#c0c0c0" stroke-width="1"/>
<line x1="571" y1="732.5" x2="573" y2="732.5" stroke="#c0c0c0" stroke-width="1"/>
<line x1="571" y1="736.5" x2="573" y2="736.5" stroke="#c0c0c0" stroke-width="1"/>
<line x1="571" y1="741.5" x2="573" y2="741.5" stroke="#c0c0c0" stroke-width="1"/>
<line x1="571" y1="745.5" x2="573" y2="745.5" stroke="#c0c0c0" stroke-width="1"/>
<line x1="571" y1="750.5" x2="573" y2="750.5" stroke="#c0c0c0" stroke-width="1"/>
<line x1="571" y1="754.5" x2="573" y2="754.5" stroke="#c0c0c0" stroke-width="1"/>
<line x1="571" y1="759.5" x2="573" y2="759.5" stroke="#c0c0c0" stroke-width="1"/>
<line x1="571" y1="763.5" x2="573" y2="763.5" stroke="#c0c0c0" stroke-width="1"/>
<line x1="571" y1="768.5" x2="573" y2="768.5" stroke="#c0c0c0" stroke-width="1"/>
<line x1="571" y1="772.5" x2="573" y2="772.5" stroke="#c0c0c0" stroke-width="1"/>
<line x1="571" y1="777.5" x2="573" y2="777.5" stroke="#c0c0c0" stroke-width="1"/>
<line x1="571" y1="781.5" x2="573" y2="781.5" stroke="#c0c0c0" stroke-width="1"/>
</svg>
</body></html>
